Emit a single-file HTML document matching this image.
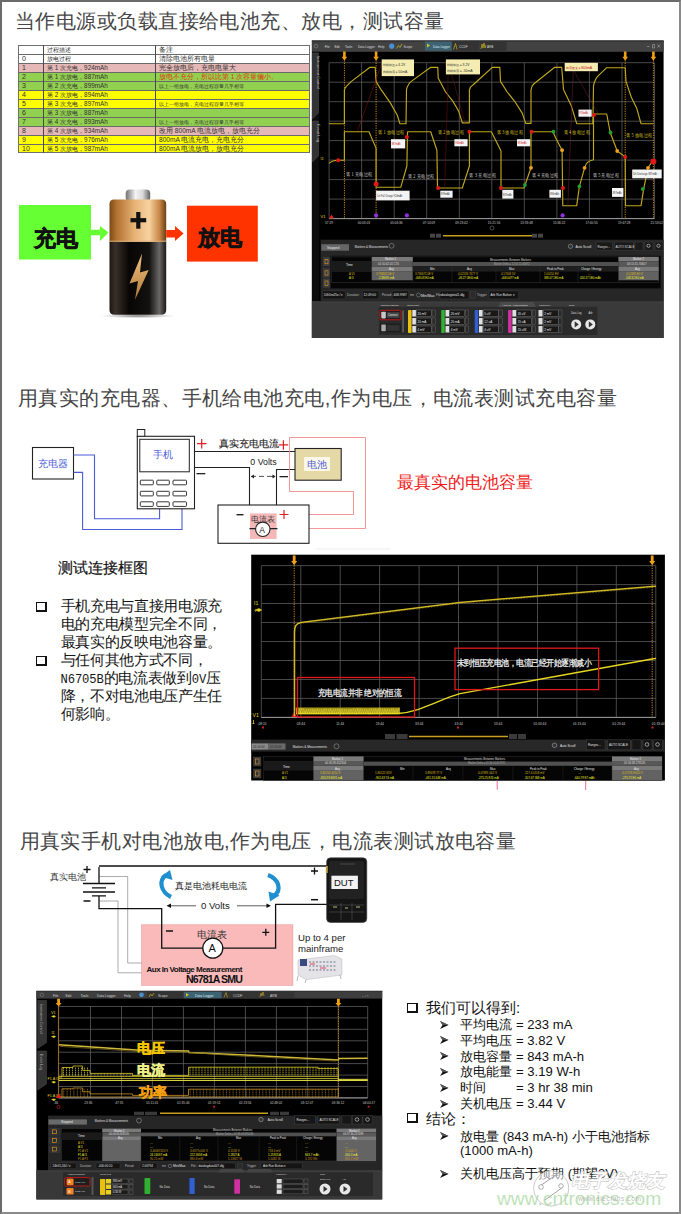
<!DOCTYPE html>
<html><head><meta charset="utf-8">
<style>
html,body{margin:0;padding:0;}
body{width:681px;height:1214px;overflow:hidden;background:#fff;position:relative;font-family:"Liberation Sans",sans-serif;}
.a{position:absolute;}
.frame{position:absolute;left:0;top:0;width:681px;height:1214px;box-sizing:border-box;border-top:2px solid #6b6b6b;border-left:2px solid #6b6b6b;border-right:2px solid #8a8a8a;border-bottom:2px solid #8a8a8a;z-index:50;pointer-events:none;}
.title{position:absolute;font-size:20px;line-height:24px;color:#454545;white-space:nowrap;font-weight:300;letter-spacing:0.45px;}
svg{position:absolute;overflow:visible;}
.bul2{font-size:14.6px;line-height:17.9px;letter-spacing:-0.33px;color:#151515;white-space:nowrap;font-family:"Liberation Serif",serif;}
.r3h{font-size:15px;line-height:20px;color:#111;white-space:nowrap;}
.r3{font-size:13.1px;line-height:20px;color:#111;white-space:nowrap;}
.r3c{font-size:13px;line-height:20px;color:#111;white-space:nowrap;}
.lat{font-family:"Liberation Mono",monospace;font-size:12.17px;letter-spacing:-0.1px;line-height:1px;}
.tr{position:absolute;left:0;width:292px;height:9px;box-sizing:border-box;border-top:1px solid #6a6a6a;font-size:7px;line-height:8px;color:#333;white-space:nowrap;overflow:hidden;}
.tr span{position:absolute;top:0;}
.c1{left:4px;font-size:7px;}
.c2{left:29px;font-size:6.4px;}
.c3{left:141px;font-size:6.6px;}
.c3s{left:141px;font-size:5px;}

</style></head><body>
<div class="frame"></div>

<!-- ============ SECTION 1 ============ -->
<div class="title" style="left:15px;top:9px;">当作电源或负载直接给电池充、放电，测试容量</div>

<!-- table -->
<div id="tbl" class="a" style="left:18px;top:45px;width:292px;height:108px;">
<div class="tr" style="top:0px;background:#fff"><span class="c1"></span><span class="c2">过程描述</span><span class="c3">备注</span></div>
<div class="tr" style="top:9px;background:#fff"><span class="c1">0</span><span class="c2">放电过程</span><span class="c3">清除电池所有电量</span></div>
<div class="tr" style="top:18px;background:#e6b8b7"><span class="c1">1</span><span class="c2">第 1 次充电，924mAh</span><span class="c3">完全放电后，充电电量大</span></div>
<div class="tr" style="top:27px;background:#92d050"><span class="c1">2</span><span class="c2">第 1 次放电，887mAh</span><span class="c3" style="color:#e03010">放电不充分，所以比第 1 次容量偏小。</span></div>
<div class="tr" style="top:36px;background:#92d050"><span class="c1">3</span><span class="c2">第 2 次充电，899mAh</span><span class="c3s">以上一组放电，充电过程容量几乎相等</span></div>
<div class="tr" style="top:45px;background:#ffff00"><span class="c1">4</span><span class="c2">第 2 次放电，894mAh</span><span class="c3"></span></div>
<div class="tr" style="top:54px;background:#ffff00"><span class="c1">5</span><span class="c2">第 3 次充电，897mAh</span><span class="c3s">以上一组放电，充电过程容量几乎相等</span></div>
<div class="tr" style="top:63px;background:#92d050"><span class="c1">6</span><span class="c2">第 3 次放电，887mAh</span><span class="c3"></span></div>
<div class="tr" style="top:72px;background:#92d050"><span class="c1">7</span><span class="c2">第 4 次充电，893mAh</span><span class="c3s">以上一组放电，充电过程容量几乎相等</span></div>
<div class="tr" style="top:81px;background:#e6b8b7"><span class="c1">8</span><span class="c2">第 4 次放电，934mAh</span><span class="c3">改用 800mA 电流放电，放电充分</span></div>
<div class="tr" style="top:90px;background:#ffff00"><span class="c1">9</span><span class="c2">第 5 次充电，976mAh</span><span class="c3">800mA 电流充电，充电充分</span></div>
<div class="tr" style="top:99px;background:#ffff00"><span class="c1">10</span><span class="c2">第 5 次放电，987mAh</span><span class="c3">800mA 电流放电，放电充分</span></div>
<div class="a" style="left:0;top:0;width:292px;height:108px;box-sizing:border-box;border:1px solid #707070;"></div>
<div class="a" style="left:25px;top:0;width:1px;height:108px;background:#4a4a4a;"></div>
<div class="a" style="left:137px;top:0;width:1px;height:108px;background:#4a4a4a;"></div>
</div>

<!-- battery -->
<svg class="a" style="left:0;top:160px;" width="280" height="180" viewBox="0 160 280 180">
<defs>
<linearGradient id="cop" x1="0" x2="1" y1="0" y2="0">
<stop offset="0" stop-color="#7a4a18"/><stop offset="0.12" stop-color="#b07030"/><stop offset="0.45" stop-color="#e8b478"/><stop offset="0.7" stop-color="#f6d2a0"/><stop offset="0.88" stop-color="#c88848"/><stop offset="1" stop-color="#6a3e14"/>
</linearGradient>
<linearGradient id="blk" x1="0" x2="1" y1="0" y2="0">
<stop offset="0" stop-color="#1a1410"/><stop offset="0.1" stop-color="#3a302a"/><stop offset="0.35" stop-color="#080604"/><stop offset="0.7" stop-color="#141210"/><stop offset="0.88" stop-color="#6a6866"/><stop offset="1" stop-color="#1a1816"/>
</linearGradient>
<linearGradient id="cap" x1="0" x2="1" y1="0" y2="0">
<stop offset="0" stop-color="#707070"/><stop offset="0.4" stop-color="#f4f4f4"/><stop offset="0.7" stop-color="#d8d8d8"/><stop offset="1" stop-color="#606060"/>
</linearGradient>
<linearGradient id="bolt" x1="0" x2="0" y1="0" y2="1">
<stop offset="0" stop-color="#f0c080"/><stop offset="1" stop-color="#b07838"/>
</linearGradient>
<radialGradient id="shd" cx="0.5" cy="0.5" r="0.5"><stop offset="0" stop-color="#555" stop-opacity="0.8"/><stop offset="1" stop-color="#888" stop-opacity="0"/></radialGradient>
</defs>
<rect x="19" y="205" width="72" height="54.5" fill="#66ff33"/>
<polygon points="91,229.8 100,229.8 100,226 108.5,232.5 100,241 100,235.3 91,235.3" fill="#66ff33"/>
<text x="33.5" y="246" font-family="Liberation Sans,sans-serif" font-size="22" font-weight="bold" fill="#111" stroke="#111" stroke-width="0.7">充电</text>
<ellipse cx="138" cy="316" rx="38" ry="2.2" fill="url(#shd)"/>
<rect x="125.7" y="189.5" width="24.5" height="12" rx="4" fill="url(#cap)"/>
<path d="M109.5,242 V204 Q109.5,199.5 114,199.5 H161.7 Q166.2,199.5 166.2,204 V242 Z" fill="url(#cop)"/>
<rect x="109.5" y="240.5" width="56.7" height="3" fill="#d8b080" opacity="0.6"/>
<path d="M109.5,242 V310 Q109.5,314.8 114.5,314.8 H161.2 Q166.2,314.8 166.2,310 V242 Z" fill="url(#blk)"/>
<rect x="136.2" y="212" width="4.2" height="16.7" fill="#111"/>
<rect x="130.5" y="218.1" width="15.7" height="4.2" fill="#111"/>
<polygon points="142,253.6 129.5,283.6 138,281 135,299.8 148.7,270 140,272.5" fill="url(#bolt)"/>
<polygon points="166.2,230 175,230 175,226 183.6,233.6 175,241 175,237.4 166.2,237.4" fill="#ff3300"/>
<rect x="187" y="205.7" width="70.8" height="55.9" fill="#ff3300"/>
<text x="197.5" y="245" font-family="Liberation Sans,sans-serif" font-size="22" font-weight="bold" fill="#111" stroke="#111" stroke-width="0.7">放电</text>
</svg>

<!-- screenshot 1 -->
<svg class="a" style="left:0;top:0" width="681" height="360" viewBox="0 0 681 360">
<rect x="311.9" y="40.6" width="351.70000000000005" height="297.4" fill="#000"/>
<rect x="311.9" y="40.6" width="351.70000000000005" height="11.2" fill="#424242"/>
<rect x="311.9" y="40.6" width="351.70000000000005" height="1.2" fill="#303030"/>
<text x="324.7" y="47.6" font-size="3.1" fill="#d8d8d8" font-family="Liberation Sans,sans-serif">File</text>
<text x="334.4" y="47.6" font-size="3.1" fill="#d8d8d8" font-family="Liberation Sans,sans-serif">Edit</text>
<text x="345" y="47.6" font-size="3.1" fill="#d8d8d8" font-family="Liberation Sans,sans-serif">Tools</text>
<text x="357.9" y="47.6" font-size="3.1" fill="#d8d8d8" font-family="Liberation Sans,sans-serif">Data Logger</text>
<text x="378" y="47.6" font-size="3.1" fill="#d8d8d8" font-family="Liberation Sans,sans-serif">Help</text>
<circle cx="316" cy="46.2" r="1.8" fill="none" stroke="#999" stroke-width="0.5"/>
<circle cx="391.7" cy="46.2" r="2.6" fill="#4a90d0"/>
<path d="M396.5,48.5 l2,-3 l1.5,2 l2,-3.5" stroke="#c8b020" stroke-width="0.8" fill="none"/>
<text x="403.5" y="47.6" font-size="3.1" fill="#d8d8d8" font-family="Liberation Sans,sans-serif">Scope</text>
<rect x="425" y="41.5" width="26.7" height="9.2" fill="#3d6272"/>
<path d="M427,43.5 l3,2 l-3,2 z" fill="#d8c020"/>
<text x="433" y="47.6" font-size="3.1" fill="#dfe8ee" font-family="Liberation Sans,sans-serif">Data Logger</text>
<rect x="452" y="41.5" width="27" height="9.2" fill="#333"/>
<path d="M453.5,49.5 l2,-6 l1.5,6" stroke="#c8b020" stroke-width="0.7" fill="none"/>
<text x="459" y="47.6" font-size="3.1" fill="#d8d8d8" font-family="Liberation Sans,sans-serif">CCDF</text>
<rect x="479.5" y="41.5" width="27" height="9.2" fill="#333"/>
<path d="M481,49 l1,-5 l1,4 l1,-5 l1,5 l1,-3" stroke="#c8b020" stroke-width="0.7" fill="none"/>
<text x="487" y="47.6" font-size="3.1" fill="#d8d8d8" font-family="Liberation Sans,sans-serif">ARB</text>
<path d="M647,46.5 h2.5 M652.5,44.5 h2 v3.5 h-2 z M657.5,44.5 l2.5,3 M660,44.5 l-2.5,3" stroke="#bbb" stroke-width="0.5" fill="none"/>
<rect x="311.9" y="51.8" width="7.3" height="286.2" fill="#0c0c0c"/>
<path d="M312.5,53 h6 v60 l-6,6 z" fill="#333" stroke="#555" stroke-width="0.4"/>
<path d="M312.5,121 h6 v35 l-6,6 z" fill="#333" stroke="#555" stroke-width="0.4"/>
<text transform="translate(316.9,56) rotate(90)" font-size="4" fill="#bbb" font-family="Liberation Sans,sans-serif">Instrument Control</text>
<text transform="translate(316.9,124) rotate(90)" font-size="4" fill="#bbb" font-family="Liberation Sans,sans-serif">Event Log</text>
<line x1="329.1" y1="62.7" x2="329.1" y2="218.6" stroke="#5a5a5a" stroke-width="0.8"/>
<line x1="361.6" y1="62.7" x2="361.6" y2="218.6" stroke="#5a5a5a" stroke-width="0.8"/>
<line x1="394.2" y1="62.7" x2="394.2" y2="218.6" stroke="#5a5a5a" stroke-width="0.8"/>
<line x1="426.7" y1="62.7" x2="426.7" y2="218.6" stroke="#5a5a5a" stroke-width="0.8"/>
<line x1="459.3" y1="62.7" x2="459.3" y2="218.6" stroke="#5a5a5a" stroke-width="0.8"/>
<line x1="491.8" y1="62.7" x2="491.8" y2="218.6" stroke="#5a5a5a" stroke-width="0.8"/>
<line x1="524.3" y1="62.7" x2="524.3" y2="218.6" stroke="#5a5a5a" stroke-width="0.8"/>
<line x1="556.9" y1="62.7" x2="556.9" y2="218.6" stroke="#5a5a5a" stroke-width="0.8"/>
<line x1="589.4" y1="62.7" x2="589.4" y2="218.6" stroke="#5a5a5a" stroke-width="0.8"/>
<line x1="622.0" y1="62.7" x2="622.0" y2="218.6" stroke="#5a5a5a" stroke-width="0.8"/>
<line x1="654.5" y1="62.7" x2="654.5" y2="218.6" stroke="#5a5a5a" stroke-width="0.8"/>
<line x1="329.1" y1="62.7" x2="654.5" y2="62.7" stroke="#5a5a5a" stroke-width="0.8"/>
<line x1="329.1" y1="82.2" x2="654.5" y2="82.2" stroke="#5a5a5a" stroke-width="0.8"/>
<line x1="329.1" y1="101.7" x2="654.5" y2="101.7" stroke="#5a5a5a" stroke-width="0.8"/>
<line x1="329.1" y1="121.2" x2="654.5" y2="121.2" stroke="#5a5a5a" stroke-width="0.8"/>
<line x1="329.1" y1="140.6" x2="654.5" y2="140.6" stroke="#5a5a5a" stroke-width="0.8"/>
<line x1="329.1" y1="160.1" x2="654.5" y2="160.1" stroke="#5a5a5a" stroke-width="0.8"/>
<line x1="329.1" y1="179.6" x2="654.5" y2="179.6" stroke="#5a5a5a" stroke-width="0.8"/>
<line x1="329.1" y1="199.1" x2="654.5" y2="199.1" stroke="#5a5a5a" stroke-width="0.8"/>
<line x1="329.1" y1="218.6" x2="654.5" y2="218.6" stroke="#5a5a5a" stroke-width="0.8"/>
<line x1="329.1" y1="218.6" x2="654.5" y2="218.6" stroke="#9a9a9a" stroke-width="1"/>
<line x1="344.4" y1="58" x2="344.4" y2="218.6" stroke="#e89a10" stroke-width="0.9" stroke-dasharray="1.2,1.2"/>
<path d="M343.09999999999997,51.5 h2.6 v5.2 h1.5 l-2.8,4 l-2.8,-4 h1.5 z" fill="#f0a010"/>
<line x1="376.1" y1="58" x2="376.1" y2="218.6" stroke="#e89a10" stroke-width="0.9" stroke-dasharray="1.2,1.2"/>
<path d="M374.8,51.5 h2.6 v5.2 h1.5 l-2.8,4 l-2.8,-4 h1.5 z" fill="#f0a010"/>
<line x1="625.2" y1="58" x2="625.2" y2="218.6" stroke="#e89a10" stroke-width="0.9" stroke-dasharray="1.2,1.2"/>
<path d="M623.9000000000001,51.5 h2.6 v5.2 h1.5 l-2.8,4 l-2.8,-4 h1.5 z" fill="#f0a010"/>
<line x1="653.4" y1="58" x2="653.4" y2="218.6" stroke="#e89a10" stroke-width="0.9" stroke-dasharray="1.2,1.2"/>
<path d="M652.1,51.5 h2.6 v5.2 h1.5 l-2.8,4 l-2.8,-4 h1.5 z" fill="#f0a010"/>
<path d="M328.9,123.7 L344.4,123.7 L344.4,90.2 C344.8,88 345.3,87.3 346.1,86.7 L351.4,81.4 L370,67.3 L375.2,67.3 L376,81.4 L381.4,90.2 L390.2,102.6 L397.2,115 L399.9,123.7 L406,123.7 L406.5,89.4 C407.5,86 409,83 411.3,81.4 L430.7,67.3 L437.8,67.3 L438.2,77.9 L445.6,92 L452.6,100.8 L458.8,111.4 L462.3,122.8 L469.4,122.8 L469.4,90.2 C470,87 471,86 472.9,85 L492.3,67.3 L499.8,67.3 L500.5,81.4 L507.2,92 L514.3,100.8 L522.2,113.1 L525.7,123.4 L531,123.4 L531,90.2 C531.5,87 532.5,85 533.7,84 L554.7,67.3 L561.7,67.3 L563.5,89.4 L571.4,106.1 L576.7,123.7 L592.9,123.7 L593.5,85.8 C594.5,81 596,78 597.9,76.1 L606.7,67.7 L625.2,67.7 L626,81.4 L631.3,97.3 L636.6,107.9 L641,123.7 L653.4,123.7" stroke="#c0a81c" stroke-width="1.15" fill="none" stroke-linejoin="round"/>
<path d="M328.9,163.4 C331,161.5 335,160.2 338.2,160.2 L344.4,160.2 L344.4,131.7 L369,131.7 L376.1,148.4 L376.1,187.2 L400.8,187.2 L406.9,166 L407.5,131.7 L430.7,131.7 L436.9,150.2 L437.5,188 L462.3,188 L469.4,166 L469.4,131.7 L491.4,131.7 L501,151 L501,188 L524,188 L531,167.8 L531,131.7 L552.9,131.7 L555.6,137.8 L562.1,150.2 L562.8,205.7 L576.7,205.7 L579.4,186.3 L584.6,167.8 C586,163 588,161 593.5,159.8 L593.5,114 L606.7,114 L610.2,132.5 L617.2,151 L625.2,156.9 L625.5,205.7 L641,205.7 L643.7,188.9 L648,167.8 L652.8,160.7" stroke="#c0a81c" stroke-width="1.15" fill="none" stroke-linejoin="round"/>
<path d="M381.7,63.8 L357.6,130.8" stroke="#7a1010" stroke-width="0.6"/>
<path d="M448.2,74.4 L444.7,188 M451.7,74.4 L465,122.8" stroke="#6a1010" stroke-width="0.55"/>
<path d="M573.2,71.2 L567.9,204.8 M574,71.2 L597.9,113.1" stroke="#6a2030" stroke-width="0.55"/>
<rect x="381.7" y="59.4" width="32.3" height="16.7" fill="#f4ecb0"/>
<rect x="445.9" y="59.4" width="34.1" height="15" fill="#f4ecb0"/>
<rect x="564.7" y="62.9" width="33.2" height="8.3" fill="#f4ecb0"/>
<text x="382.5" y="66" font-size="3.4" fill="#333" font-family="Liberation Sans,sans-serif">终端电压 = 4.2V</text><text x="382.5" y="73" font-size="3.4" fill="#333" font-family="Liberation Sans,sans-serif">终端电流 = 50mA</text>
<text x="446.7" y="65.5" font-size="3.4" fill="#333" font-family="Liberation Sans,sans-serif">终端电压 = 3.2V</text><text x="446.7" y="72" font-size="3.4" fill="#333" font-family="Liberation Sans,sans-serif">终端电流 = -50mA</text>
<text x="565.5" y="68.5" font-size="3.4" fill="#c01010" font-family="Liberation Sans,sans-serif">电流改变 = 800mA</text>
<text transform="translate(378,133.5) scale(0.82,1)" font-size="5.2" fill="#d8c020" font-family="Liberation Serif,serif">第 1 放电过程</text>
<text transform="translate(437.6,133.5) scale(0.82,1)" font-size="5.2" fill="#d8c020" font-family="Liberation Serif,serif">第 2 放电过程</text>
<text transform="translate(496.7,133.5) scale(0.82,1)" font-size="5.2" fill="#d8c020" font-family="Liberation Serif,serif">第 3 放电过程</text>
<text transform="translate(563.5,134.3) scale(0.82,1)" font-size="5.2" fill="#d8c020" font-family="Liberation Serif,serif">第 4 放电过程</text>
<text transform="translate(626,137) scale(0.82,1)" font-size="5.2" fill="#d8c020" font-family="Liberation Serif,serif">第 5 放电过程</text>
<text transform="translate(346,175.8) scale(0.82,1)" font-size="5.2" fill="#cfcfcf" font-family="Liberation Serif,serif">第 1 充电过程</text>
<text transform="translate(407.8,177.5) scale(0.82,1)" font-size="5.2" fill="#cfcfcf" font-family="Liberation Serif,serif">第 2 充电过程</text>
<text transform="translate(469.4,176.6) scale(0.82,1)" font-size="5.2" fill="#cfcfcf" font-family="Liberation Serif,serif">第 3 充电过程</text>
<text transform="translate(531.9,176.8) scale(0.82,1)" font-size="5.2" fill="#cfcfcf" font-family="Liberation Serif,serif">第 4 充电过程</text>
<text transform="translate(592.6,176.8) scale(0.82,1)" font-size="5.2" fill="#cfcfcf" font-family="Liberation Serif,serif">第 5 充电过程</text>
<rect x="376.1" y="190.7" width="33.5" height="9.7" fill="#f4f4f4"/>
<text transform="translate(376.90000000000003,197.005) scale(0.85,1)" font-size="2.8" fill="#333" font-family="Liberation Sans,sans-serif">1st Full Charge 924mAh</text>
<rect x="440.3" y="190.7" width="12.3" height="7" fill="#f4f4f4"/>
<text transform="translate(441.1,195.25) scale(0.85,1)" font-size="2.8" fill="#333" font-family="Liberation Sans,sans-serif">899mAh</text>
<rect x="502.3" y="189.8" width="11.1" height="8.8" fill="#f4f4f4"/>
<text transform="translate(503.1,195.52) scale(0.85,1)" font-size="2.8" fill="#333" font-family="Liberation Sans,sans-serif">897mAh</text>
<rect x="549.4" y="189.8" width="11.5" height="7.9" fill="#f4f4f4"/>
<text transform="translate(550.1999999999999,194.935) scale(0.85,1)" font-size="2.8" fill="#333" font-family="Liberation Sans,sans-serif">894mAh</text>
<rect x="612" y="188" width="11.4" height="8.9" fill="#f4f4f4"/>
<text transform="translate(612.8,193.785) scale(0.85,1)" font-size="2.8" fill="#333" font-family="Liberation Sans,sans-serif">897mAh</text>
<rect x="391" y="139.2" width="14.2" height="9.2" fill="#f4f4f4"/>
<text transform="translate(391.8,145.17999999999998) scale(0.85,1)" font-size="2.8" fill="#d01010" font-family="Liberation Sans,sans-serif">887mAh</text>
<rect x="454.4" y="139.2" width="13.2" height="7.1" fill="#f4f4f4"/>
<text transform="translate(455.2,143.815) scale(0.85,1)" font-size="2.8" fill="#d01010" font-family="Liberation Sans,sans-serif">934mAh</text>
<rect x="517" y="139.2" width="13.2" height="7.1" fill="#f4f4f4"/>
<text transform="translate(517.8,143.815) scale(0.85,1)" font-size="2.8" fill="#d01010" font-family="Liberation Sans,sans-serif">893mAh</text>
<rect x="578.5" y="109.6" width="13.2" height="7.1" fill="#f4f4f4"/>
<text transform="translate(579.3,114.21499999999999) scale(0.85,1)" font-size="2.8" fill="#d01010" font-family="Liberation Sans,sans-serif">976mAh</text>
<rect x="632.2" y="169.5" width="29.5" height="8.8" fill="#f4f4f4"/>
<text transform="translate(633.0,175.22) scale(0.85,1)" font-size="2.8" fill="#333" font-family="Liberation Sans,sans-serif">5th Discharge 987mAh</text>
<circle cx="338.2" cy="160.2" r="2" fill="#e01818"/>
<circle cx="376.1" cy="184" r="2.5" fill="#e01818"/>
<circle cx="406.9" cy="137" r="2" fill="#e01818"/>
<circle cx="438.1" cy="188" r="2" fill="#e01818"/>
<circle cx="469.4" cy="131.7" r="2" fill="#e01818"/>
<circle cx="501" cy="188" r="2" fill="#e01818"/>
<circle cx="531.6" cy="131.7" r="2" fill="#e01818"/>
<circle cx="531" cy="167.8" r="1.9" fill="#f0a020"/>
<circle cx="524.9" cy="185" r="1.9" fill="#22a030"/>
<circle cx="553.4" cy="131.7" r="1.9" fill="#22a030"/>
<circle cx="562.1" cy="150.2" r="1.9" fill="#f0a020"/>
<circle cx="563" cy="188" r="2" fill="#e01818"/>
<circle cx="579.4" cy="186.3" r="1.9" fill="#22a030"/>
<circle cx="584.6" cy="167.8" r="1.9" fill="#f0a020"/>
<circle cx="594" cy="114.9" r="2" fill="#e01818"/>
<circle cx="610.5" cy="132.5" r="1.9" fill="#22a030"/>
<circle cx="617.2" cy="151" r="1.9" fill="#f0a020"/>
<circle cx="625.2" cy="156.9" r="2" fill="#e01818"/>
<circle cx="642.8" cy="189" r="1.9" fill="#22a030"/>
<circle cx="648" cy="167.8" r="1.9" fill="#f0a020"/>
<circle cx="653.4" cy="161.6" r="3" fill="#e01818"/>
<circle cx="376.1" cy="215.4" r="2.1" fill="#9030e0"/>
<circle cx="406.9" cy="215.4" r="2.1" fill="#9030e0"/>
<circle cx="562.6" cy="215.4" r="2.1" fill="#9030e0"/>
<path d="M329,218.6 l2.5,-4 l2.5,4 z" fill="#e02020"/>
<text x="320.5" y="160" font-size="4" fill="#e0d020" font-family="Liberation Sans,sans-serif">I1</text>
<text x="320.5" y="218" font-size="4" fill="#e0d020" font-family="Liberation Sans,sans-serif">V1</text>
<text x="325.1" y="224" font-size="3.2" fill="#cfcfcf" font-family="Liberation Sans,sans-serif">57:29</text>
<text x="357.64000000000004" y="224" font-size="3.2" fill="#cfcfcf" font-family="Liberation Sans,sans-serif">00:03:03</text>
<text x="390.18" y="224" font-size="3.2" fill="#cfcfcf" font-family="Liberation Sans,sans-serif">05:06:36</text>
<text x="422.72" y="224" font-size="3.2" fill="#cfcfcf" font-family="Liberation Sans,sans-serif">07:14:09</text>
<text x="455.26" y="224" font-size="3.2" fill="#cfcfcf" font-family="Liberation Sans,sans-serif">09:23:42</text>
<text x="487.8" y="224" font-size="3.2" fill="#cfcfcf" font-family="Liberation Sans,sans-serif">15:21:16</text>
<text x="520.34" y="224" font-size="3.2" fill="#cfcfcf" font-family="Liberation Sans,sans-serif">13:33:48</text>
<text x="552.88" y="224" font-size="3.2" fill="#cfcfcf" font-family="Liberation Sans,sans-serif">15:36:22</text>
<text x="585.4200000000001" y="224" font-size="3.2" fill="#cfcfcf" font-family="Liberation Sans,sans-serif">17:40:55</text>
<text x="617.96" y="224" font-size="3.2" fill="#cfcfcf" font-family="Liberation Sans,sans-serif">19:47:28</text>
<text x="650.5" y="224" font-size="3.2" fill="#cfcfcf" font-family="Liberation Sans,sans-serif">21:53:02</text>
<rect x="430" y="233.7" width="5" height="4" fill="#444"/><rect x="436" y="233.7" width="5" height="4" fill="#444"/>
<line x1="443" y1="235.7" x2="532" y2="235.7" stroke="#c8a020" stroke-width="1.4"/>
<rect x="532" y="233.7" width="5" height="4" fill="#444"/><rect x="538" y="233.7" width="5" height="4" fill="#444"/>
<circle cx="492" cy="228" r="2" fill="none" stroke="#777" stroke-width="0.6"/>
<rect x="320.6" y="239.7" width="343.0" height="61.5" fill="#262626"/>
<rect x="321.3" y="244.2" width="27.7" height="6.5" fill="#666"/>
<text x="327" y="248.8" font-size="3.3" fill="#e8e8e8" font-family="Liberation Sans,sans-serif">Stopped</text>
<text x="354.8" y="247.6" font-size="2.9" fill="#e0e0e0" font-family="Liberation Sans,sans-serif">Markers &amp; Measurements</text>
<circle cx="391.6" cy="245.8" r="2.4" fill="none" stroke="#aaa" stroke-width="0.5"/>
<circle cx="570.5" cy="246.3" r="2.2" fill="#333" stroke="#aaa" stroke-width="0.5"/>
<text x="575.4" y="247.8" font-size="3.3" fill="#e0e0e0" font-family="Liberation Sans,sans-serif">Auto Scroll</text>
<rect x="596" y="242" width="16.4" height="8.5" fill="#1a1a1a" stroke="#555" stroke-width="0.3"/>
<rect x="614.4" y="242" width="18.9" height="8.5" fill="#1a1a1a" stroke="#555" stroke-width="0.3"/>
<rect x="635" y="242" width="8" height="8.5" fill="#1a1a1a" stroke="#555" stroke-width="0.3"/>
<rect x="645" y="242" width="8" height="8.5" fill="#1a1a1a" stroke="#555" stroke-width="0.3"/>
<rect x="655" y="242" width="8" height="8.5" fill="#1a1a1a" stroke="#555" stroke-width="0.3"/>
<text x="597.5" y="247.6" font-size="3" fill="#ddd" font-family="Liberation Sans,sans-serif">Ranges...</text><text x="615.5" y="247.6" font-size="3" fill="#ddd" font-family="Liberation Sans,sans-serif">AUTO SCALE</text>
<circle cx="648.5" cy="245.8" r="1.6" fill="none" stroke="#ddd" stroke-width="0.6"/><circle cx="658.5" cy="245.8" r="1.6" fill="none" stroke="#ddd" stroke-width="0.6"/>
<rect x="323.4" y="257.5" width="6.1" height="8.3" fill="#3a3a3a" stroke="#555" stroke-width="0.3"/>
<rect x="325" y="259.5" width="3" height="4.3" fill="none" stroke="#e0a030" stroke-width="0.6"/>
<rect x="323.4" y="268.8" width="6.1" height="8.3" fill="#3a3a3a" stroke="#555" stroke-width="0.3"/>
<rect x="325" y="270.8" width="3" height="4.3" fill="none" stroke="#e0a030" stroke-width="0.6"/>
<rect x="323.4" y="279" width="6.1" height="8.3" fill="#3a3a3a" stroke="#555" stroke-width="0.3"/>
<rect x="325" y="281" width="3" height="4.3" fill="none" stroke="#e0a030" stroke-width="0.6"/>
<rect x="330.6" y="255.8" width="330" height="32.6" fill="#050505"/>
<rect x="331.6" y="256.9" width="327.1" height="25.5" fill="#050505" stroke="#3a3a3a" stroke-width="0.5"/>
<rect x="331.6" y="261" width="40.1" height="11" fill="#1a1a1a"/>
<rect x="371.7" y="256.9" width="41.1" height="4.1" fill="#7a7a7a"/>
<rect x="371.7" y="261" width="41.1" height="5.2" fill="#585858"/>
<rect x="371.7" y="266.4" width="41.1" height="5.3" fill="#7a7a7a"/>
<rect x="371.7" y="271.7" width="41.1" height="8.6" fill="#626262"/>
<rect x="412.8" y="262" width="205.6" height="4.3" fill="#505050"/>
<rect x="412.8" y="266.6" width="205.6" height="5" fill="#1e1e1e"/>
<rect x="618.4" y="256.9" width="40.3" height="4.3" fill="#7a7a7a"/>
<rect x="618.4" y="261.2" width="40.3" height="5.2" fill="#585858"/>
<rect x="618.4" y="266.4" width="40.3" height="5.3" fill="#7a7a7a"/>
<rect x="618.4" y="271.7" width="40.3" height="8.6" fill="#626262"/>
<text x="346" y="265.8" font-size="3.1" fill="#e8e8e8" font-family="Liberation Sans,sans-serif">Time</text>
<text x="385" y="260.3" font-size="2.8" fill="#eee" font-family="Liberation Sans,sans-serif">Marker 1</text><text x="633" y="260.3" font-size="2.8" fill="#eee" font-family="Liberation Sans,sans-serif">Marker 2</text>
<text x="378" y="265" font-size="2.8" fill="#ddd" font-family="Liberation Sans,sans-serif">01:50:42.01 CT6</text><text x="627" y="265" font-size="2.8" fill="#ddd" font-family="Liberation Sans,sans-serif">03:15:15.70657</text>
<text x="490" y="260.6" font-size="2.8" fill="#ddd" font-family="Liberation Sans,sans-serif">Measurements Between Markers</text><text x="494" y="265.2" font-size="2.6" fill="#aaa" font-family="Liberation Sans,sans-serif">Marker Delta = 12:01:11.00872</text>
<text x="389" y="270.2" font-size="2.8" fill="#e8e8e8" font-family="Liberation Sans,sans-serif">Avg</text>
<text x="430" y="270.2" font-size="2.8" fill="#e8e8e8" font-family="Liberation Sans,sans-serif">Min</text>
<text x="467" y="270.2" font-size="2.8" fill="#e8e8e8" font-family="Liberation Sans,sans-serif">Avg</text>
<text x="509" y="270.2" font-size="2.8" fill="#e8e8e8" font-family="Liberation Sans,sans-serif">Max</text>
<text x="547" y="270.2" font-size="2.8" fill="#e8e8e8" font-family="Liberation Sans,sans-serif">Peak to Peak</text>
<text x="581" y="270.2" font-size="2.8" fill="#e8e8e8" font-family="Liberation Sans,sans-serif">Charge / Energy</text>
<text x="635" y="270.2" font-size="2.8" fill="#e8e8e8" font-family="Liberation Sans,sans-serif">Avg</text>
<line x1="412.8" y1="266.6" x2="412.8" y2="282" stroke="#333" stroke-width="0.4"/>
<line x1="452" y1="266.6" x2="452" y2="282" stroke="#333" stroke-width="0.4"/>
<line x1="496" y1="266.6" x2="496" y2="282" stroke="#333" stroke-width="0.4"/>
<line x1="540" y1="266.6" x2="540" y2="282" stroke="#333" stroke-width="0.4"/>
<line x1="578" y1="266.6" x2="578" y2="282" stroke="#333" stroke-width="0.4"/>
<line x1="618.4" y1="266.6" x2="618.4" y2="282" stroke="#333" stroke-width="0.4"/>
<text x="349" y="275.2" font-size="2.8" fill="#d8b818" font-family="Liberation Sans,sans-serif">A V1</text>
<text x="376" y="275.2" font-size="2.8" fill="#d8b818" font-family="Liberation Sans,sans-serif">3.78882C0E V</text>
<text x="415" y="275.2" font-size="2.8" fill="#d8b818" font-family="Liberation Sans,sans-serif">3.78067C0E V</text>
<text x="458" y="275.2" font-size="2.8" fill="#d8b818" font-family="Liberation Sans,sans-serif">4.02533 7677 V</text>
<text x="501" y="275.2" font-size="2.8" fill="#d8b818" font-family="Liberation Sans,sans-serif">4.17008 5V</text>
<text x="544" y="275.2" font-size="2.8" fill="#d8b818" font-family="Liberation Sans,sans-serif">1.00210 EV</text>
<text x="588" y="275.2" font-size="2.8" fill="#d8b818" font-family="Liberation Sans,sans-serif">---</text>
<text x="626" y="275.2" font-size="2.8" fill="#d8b818" font-family="Liberation Sans,sans-serif">4.12483 E0 V</text>
<text x="349" y="279.2" font-size="2.8" fill="#f0f020" font-family="Liberation Sans,sans-serif">A I1</text>
<text x="378" y="279.2" font-size="2.8" fill="#f0f020" font-family="Liberation Sans,sans-serif">-2.38095 mA</text>
<text x="415" y="279.2" font-size="2.8" fill="#f0f020" font-family="Liberation Sans,sans-serif">-408.08 E0 mA</text>
<text x="458" y="279.2" font-size="2.8" fill="#f0f020" font-family="Liberation Sans,sans-serif">-49.27 0E00 mA</text>
<text x="501" y="279.2" font-size="2.8" fill="#f0f020" font-family="Liberation Sans,sans-serif">-408.0477 mA</text>
<text x="544" y="279.2" font-size="2.8" fill="#f0f020" font-family="Liberation Sans,sans-serif">388.07 1E0 mA</text>
<text x="580" y="279.2" font-size="2.8" fill="#f0f020" font-family="Liberation Sans,sans-serif">424.17 5E0 mAh</text>
<text x="625" y="279.2" font-size="2.8" fill="#f0f020" font-family="Liberation Sans,sans-serif">-108.32 E0 mA</text>
<rect x="322.7" y="290.9" width="22.7" height="8.1" rx="1" fill="#141414" stroke="#4a4a4a" stroke-width="0.4"/>
<rect x="362.4" y="290.9" width="16.5" height="8.1" rx="1" fill="#141414" stroke="#4a4a4a" stroke-width="0.4"/>
<rect x="392.2" y="290.9" width="16.5" height="8.1" rx="1" fill="#141414" stroke="#4a4a4a" stroke-width="0.4"/>
<rect x="440" y="290.9" width="29" height="8.1" rx="1" fill="#141414" stroke="#4a4a4a" stroke-width="0.4"/>
<rect x="489" y="290.9" width="29.6" height="8.1" rx="1" fill="#141414" stroke="#4a4a4a" stroke-width="0.4"/>
<text x="323.8" y="296.2" font-size="3.2" fill="#e0e0e0" font-family="Liberation Sans,sans-serif">10h5m25s / ▾</text>
<text x="347" y="296.2" font-size="3.1" fill="#bbb" font-family="Liberation Sans,sans-serif">Duration:</text><text x="363.5" y="296.2" font-size="3.2" fill="#e0e0e0" font-family="Liberation Sans,sans-serif">12:49:00</text>
<text x="382" y="296.2" font-size="3.1" fill="#bbb" font-family="Liberation Sans,sans-serif">Period:</text><text x="393.5" y="296.2" font-size="3.2" fill="#e0e0e0" font-family="Liberation Sans,sans-serif">408.9987</text><text x="410" y="296.2" font-size="3.1" fill="#bbb" font-family="Liberation Sans,sans-serif">ms</text>
<circle cx="418.5" cy="295" r="2" fill="none" stroke="#aaa" stroke-width="0.4"/>
<text x="421" y="296.5" font-size="3.6" fill="#e0e0e0" font-family="Liberation Sans,sans-serif">Min/Max</text><text x="436" y="296.2" font-size="3.1" fill="#bbb" font-family="Liberation Sans,sans-serif">File:</text>
<text x="441" y="296.2" font-size="3.2" fill="#e0e0e0" font-family="Liberation Sans,sans-serif">datalogtotal1.dlg</text>
<rect x="470.7" y="291.5" width="4.5" height="7" fill="#2a2a2a" stroke="#555" stroke-width="0.3"/>
<text x="477" y="296.2" font-size="3.1" fill="#bbb" font-family="Liberation Sans,sans-serif">Trigger</text><text x="490.5" y="296.2" font-size="3.1" fill="#e0e0e0" font-family="Liberation Sans,sans-serif">Arb Run Button  ▾</text>
<rect x="311.9" y="301.5" width="351.70000000000005" height="36.5" fill="#3a3a3a"/>
<rect x="311.9" y="301.5" width="351.70000000000005" height="0.8" fill="#4a4a4a"/>
<rect x="378.8" y="306.8" width="218.5" height="28.2" fill="#2a2a2a"/>
<path d="M498,307 l2.5,-5 h33 l2.5,5 z" fill="#4a4a4a"/>
<text x="380.6" y="305.6" font-size="2.5" fill="#ddd" font-family="Liberation Sans,sans-serif">INSTRUMENTS</text>
<text x="407" y="305.6" font-size="2.5" fill="#ddd" font-family="Liberation Sans,sans-serif">OUTPUTS</text>
<text x="502" y="305.6" font-size="2.5" fill="#ddd" font-family="Liberation Sans,sans-serif">ACTIVE - datalogdata8</text>
<text x="539" y="305.6" font-size="2.5" fill="#ddd" font-family="Liberation Sans,sans-serif">FORMULA</text>
<text x="569" y="305.6" font-size="2.5" fill="#ddd" font-family="Liberation Sans,sans-serif">RUN</text>
<rect x="379.9" y="310.3" width="21.1" height="9.5" rx="1.5" fill="#1e1e1e" stroke="#d01818" stroke-width="0.9"/>
<rect x="381.3" y="311.7" width="4.5" height="6.7" rx="0.8" fill="#c8c8c8"/><rect x="386.8" y="312.2" width="12.7" height="5.7" fill="#444"/>
<text x="388" y="316" font-size="2.6" fill="#eee" font-family="Liberation Sans,sans-serif">Connect</text>
<rect x="379.9" y="323.4" width="21.1" height="9.1" rx="1.5" fill="#1e1e1e"/>
<rect x="381.3" y="324.6" width="4.5" height="6.7" rx="0.8" fill="#aaa"/><rect x="386.8" y="325.1" width="12.7" height="5.7" fill="#333"/>
<rect x="402.2" y="310.3" width="1.8" height="22" fill="#5a5a5a"/>
<rect x="408" y="310" width="3.6" height="23" rx="0.8" fill="#e8c010"/>
<rect x="412.3" y="310" width="3.6" height="6.5" fill="#e0e0e0"/>
<rect x="416.6" y="310" width="15" height="6.5" fill="#181818" stroke="#888" stroke-width="0.4"/>
<rect x="432" y="310" width="3.5" height="6.5" fill="#2a2a2a" stroke="#888" stroke-width="0.3"/>
<text x="417.6" y="314.6" font-size="3" fill="#eee" font-family="Liberation Sans,sans-serif">20 mV</text>
<rect x="412.3" y="318" width="3.6" height="6.5" fill="#e0e0e0"/>
<rect x="416.6" y="318" width="15" height="6.5" fill="#181818" stroke="#888" stroke-width="0.4"/>
<rect x="432" y="318" width="3.5" height="6.5" fill="#2a2a2a" stroke="#888" stroke-width="0.3"/>
<text x="417.6" y="322.6" font-size="3" fill="#eee" font-family="Liberation Sans,sans-serif">20 mA</text>
<rect x="412.3" y="326" width="3.6" height="6.5" fill="#e0e0e0"/>
<rect x="416.6" y="326" width="15" height="6.5" fill="#181818" stroke="#888" stroke-width="0.4"/>
<rect x="432" y="326" width="3.5" height="6.5" fill="#2a2a2a" stroke="#888" stroke-width="0.3"/>
<text x="417.6" y="330.6" font-size="3" fill="#eee" font-family="Liberation Sans,sans-serif">4 mV</text>
<rect x="441.2" y="310" width="3.6" height="23" rx="0.8" fill="#30b030"/>
<rect x="445.5" y="310" width="3.6" height="6.5" fill="#e0e0e0"/>
<rect x="449.8" y="310" width="15" height="6.5" fill="#181818" stroke="#888" stroke-width="0.4"/>
<rect x="465.2" y="310" width="3.5" height="6.5" fill="#2a2a2a" stroke="#888" stroke-width="0.3"/>
<text x="450.8" y="314.6" font-size="3" fill="#eee" font-family="Liberation Sans,sans-serif">20 mV</text>
<rect x="445.5" y="318" width="3.6" height="6.5" fill="#e0e0e0"/>
<rect x="449.8" y="318" width="15" height="6.5" fill="#181818" stroke="#888" stroke-width="0.4"/>
<rect x="465.2" y="318" width="3.5" height="6.5" fill="#2a2a2a" stroke="#888" stroke-width="0.3"/>
<text x="450.8" y="322.6" font-size="3" fill="#eee" font-family="Liberation Sans,sans-serif">20 mA</text>
<rect x="445.5" y="326" width="3.6" height="6.5" fill="#e0e0e0"/>
<rect x="449.8" y="326" width="15" height="6.5" fill="#181818" stroke="#888" stroke-width="0.4"/>
<rect x="465.2" y="326" width="3.5" height="6.5" fill="#2a2a2a" stroke="#888" stroke-width="0.3"/>
<text x="450.8" y="330.6" font-size="3" fill="#eee" font-family="Liberation Sans,sans-serif">4 mV</text>
<rect x="474.7" y="310" width="3.6" height="23" rx="0.8" fill="#3060d0"/>
<rect x="479.0" y="310" width="3.6" height="6.5" fill="#e0e0e0"/>
<rect x="483.3" y="310" width="15" height="6.5" fill="#181818" stroke="#888" stroke-width="0.4"/>
<rect x="498.7" y="310" width="3.5" height="6.5" fill="#2a2a2a" stroke="#888" stroke-width="0.3"/>
<text x="484.3" y="314.6" font-size="3" fill="#eee" font-family="Liberation Sans,sans-serif">5 uV</text>
<rect x="479.0" y="318" width="3.6" height="6.5" fill="#e0e0e0"/>
<rect x="483.3" y="318" width="15" height="6.5" fill="#181818" stroke="#888" stroke-width="0.4"/>
<rect x="498.7" y="318" width="3.5" height="6.5" fill="#2a2a2a" stroke="#888" stroke-width="0.3"/>
<text x="484.3" y="322.6" font-size="3" fill="#eee" font-family="Liberation Sans,sans-serif">12 uA</text>
<rect x="479.0" y="326" width="3.6" height="6.5" fill="#e0e0e0"/>
<rect x="483.3" y="326" width="15" height="6.5" fill="#181818" stroke="#888" stroke-width="0.4"/>
<rect x="498.7" y="326" width="3.5" height="6.5" fill="#2a2a2a" stroke="#888" stroke-width="0.3"/>
<text x="484.3" y="330.6" font-size="3" fill="#eee" font-family="Liberation Sans,sans-serif">4 uV</text>
<rect x="508.1" y="310" width="3.6" height="23" rx="0.8" fill="#d030a0"/>
<rect x="512.4" y="310" width="3.6" height="6.5" fill="#e0e0e0"/>
<rect x="516.7" y="310" width="15" height="6.5" fill="#181818" stroke="#888" stroke-width="0.4"/>
<rect x="532.1" y="310" width="3.5" height="6.5" fill="#2a2a2a" stroke="#888" stroke-width="0.3"/>
<text x="517.7" y="314.6" font-size="3" fill="#eee" font-family="Liberation Sans,sans-serif">20 uV</text>
<rect x="512.4" y="318" width="3.6" height="6.5" fill="#e0e0e0"/>
<rect x="516.7" y="318" width="15" height="6.5" fill="#181818" stroke="#888" stroke-width="0.4"/>
<rect x="532.1" y="318" width="3.5" height="6.5" fill="#2a2a2a" stroke="#888" stroke-width="0.3"/>
<text x="517.7" y="322.6" font-size="3" fill="#eee" font-family="Liberation Sans,sans-serif">15 uA</text>
<rect x="512.4" y="326" width="3.6" height="6.5" fill="#e0e0e0"/>
<rect x="516.7" y="326" width="15" height="6.5" fill="#181818" stroke="#888" stroke-width="0.4"/>
<rect x="532.1" y="326" width="3.5" height="6.5" fill="#2a2a2a" stroke="#888" stroke-width="0.3"/>
<text x="517.7" y="330.6" font-size="3" fill="#eee" font-family="Liberation Sans,sans-serif">15 uW</text>
<rect x="538.5" y="310" width="4" height="6.5" fill="#ddd"/><rect x="543.2" y="310" width="15" height="6.5" fill="#181818" stroke="#888" stroke-width="0.4"/><rect x="558.6" y="310" width="3.4" height="6.5" fill="#2a2a2a" stroke="#888" stroke-width="0.3"/>
<text x="544.2" y="314.6" font-size="3" fill="#eee" font-family="Liberation Sans,sans-serif">2 mV</text>
<rect x="538.5" y="318" width="4" height="6.5" fill="#ddd"/><rect x="543.2" y="318" width="15" height="6.5" fill="#181818" stroke="#888" stroke-width="0.4"/><rect x="558.6" y="318" width="3.4" height="6.5" fill="#2a2a2a" stroke="#888" stroke-width="0.3"/>
<text x="544.2" y="322.6" font-size="3" fill="#eee" font-family="Liberation Sans,sans-serif">2 mV</text>
<rect x="538.5" y="326" width="4" height="6.5" fill="#ddd"/><rect x="543.2" y="326" width="15" height="6.5" fill="#181818" stroke="#888" stroke-width="0.4"/><rect x="558.6" y="326" width="3.4" height="6.5" fill="#2a2a2a" stroke="#888" stroke-width="0.3"/>
<text x="544.2" y="330.6" font-size="3" fill="#eee" font-family="Liberation Sans,sans-serif">2 mV</text>
<text x="571" y="313.5" font-size="2.6" fill="#ddd" font-family="Liberation Sans,sans-serif">Data Log</text><text x="588.5" y="313.5" font-size="2.6" fill="#ddd" font-family="Liberation Sans,sans-serif">Arb</text>
<circle cx="576.2" cy="324.4" r="5" fill="#e8e8e8"/><path d="M574.7,321.3 l4,3.1 l-4,3.1 z" fill="#333"/>
<circle cx="590.3" cy="324.4" r="5" fill="#e8e8e8"/><path d="M588.8,321.3 l4,3.1 l-4,3.1 z" fill="#333"/>
</svg>

<!-- ============ SECTION 2 ============ -->
<div class="title" style="left:18px;top:386px;">用真实的充电器、手机给电池充电,作为电压，电流表测试充电容量</div>

<svg class="a" style="left:0;top:0" width="681" height="560" viewBox="0 0 681 560">
<rect x="32.5" y="447.5" width="41" height="31.5" fill="#fff" stroke="#222" stroke-width="1.1"/>
<text x="37.5" y="467" font-size="9.6" fill="#4a5ad8" font-family="Liberation Sans,sans-serif">充电器</text>
<path d="M73.5,455 H94.5 V518.8 H159.6 V508.8" fill="none" stroke="#4a5ad8" stroke-width="1.1"/>
<path d="M73.5,472.4 H82.6 V529.5 H182 V508.8" fill="none" stroke="#4a5ad8" stroke-width="1.1"/>
<rect x="137.3" y="429.5" width="7.5" height="7" fill="#fff" stroke="#222" stroke-width="1"/>
<rect x="137.3" y="436.3" width="57.2" height="72.5" fill="#fff" stroke="#222" stroke-width="1.1"/>
<rect x="139.8" y="439.3" width="49.5" height="32.5" fill="#fff" stroke="#222" stroke-width="1"/>
<text x="152.5" y="457.5" font-size="9.6" fill="#4a5ad8" font-family="Liberation Sans,sans-serif">手机</text>
<rect x="140.3" y="480.2" width="13" height="4.6" rx="0.8" fill="#fff" stroke="#222" stroke-width="0.9"/>
<rect x="156.8" y="480.2" width="12.5" height="4.6" rx="0.8" fill="#fff" stroke="#222" stroke-width="0.9"/>
<rect x="173" y="480.2" width="13.5" height="4.6" rx="0.8" fill="#fff" stroke="#222" stroke-width="0.9"/>
<rect x="140.3" y="491.3" width="13" height="4.6" rx="0.8" fill="#fff" stroke="#222" stroke-width="0.9"/>
<rect x="156.8" y="491.3" width="12.5" height="4.6" rx="0.8" fill="#fff" stroke="#222" stroke-width="0.9"/>
<rect x="173" y="491.3" width="13.5" height="4.6" rx="0.8" fill="#fff" stroke="#222" stroke-width="0.9"/>
<rect x="140.3" y="501.8" width="13" height="4.6" rx="0.8" fill="#fff" stroke="#222" stroke-width="0.9"/>
<rect x="156.8" y="501.8" width="12.5" height="4.6" rx="0.8" fill="#fff" stroke="#222" stroke-width="0.9"/>
<rect x="173" y="501.8" width="13.5" height="4.6" rx="0.8" fill="#fff" stroke="#222" stroke-width="0.9"/>
<path d="M194.5,451.5 H295" stroke="#222" stroke-width="1.1" fill="none"/>
<path d="M194.5,467.5 H249.5 V528.6 H255.5" stroke="#222" stroke-width="1.1" fill="none"/>
<path d="M295,469.5 H276.5 V528.6 H270.5" stroke="#222" stroke-width="1.1" fill="none"/>
<path d="M309,528.5 H365.5 V437.5 H289.5 V491.5 H353.5 V514.5 H309" stroke="#f08c8c" stroke-width="0.9" fill="none"/>
<rect x="295" y="448.5" width="46.2" height="31.7" fill="#e6d9a8" stroke="#222" stroke-width="1.1"/>
<rect x="304" y="457" width="26" height="14" fill="#fffdf2" opacity="0.85"/>
<text x="307" y="467.5" font-size="9.6" fill="#4a5ad8" font-family="Liberation Sans,sans-serif">电池</text>
<path d="M197,443.7 h9.5 M201.7,439 v9.5 M278.7,444.9 h9.5 M283.4,440.2 v9.5" stroke="#e02020" stroke-width="1.2"/>
<rect x="196.5" y="473" width="8.8" height="1.3" fill="#222"/>
<rect x="279.5" y="476" width="8.5" height="1.3" fill="#222"/>
<text x="218.8" y="446.8" font-size="9.7" fill="#222" font-family="Liberation Sans,sans-serif" stroke="#222" stroke-width="0.15">真实充电电流</text>
<text x="250.3" y="464.8" font-size="8.8" fill="#222" font-family="Liberation Sans,sans-serif">0 Volts</text>
<path d="M251,476.4 h5 M259,476.4 h5 M267,476.4 h8" stroke="#222" stroke-width="0.8"/>
<path d="M251,476.4 l3,-2 v4 z M275.5,476.4 l-3,-2 v4 z" fill="#222"/>
<rect x="218" y="505" width="91" height="38.3" fill="#fff" stroke="#222" stroke-width="1.1"/>
<rect x="250" y="513.4" width="26.6" height="25.6" fill="#f4b8b8"/>
<text x="250.5" y="522" font-size="8" fill="#333" font-family="Liberation Sans,sans-serif">电流表</text>
<rect x="236.5" y="514" width="7" height="1.4" fill="#222"/>
<path d="M279.5,514.5 h9 M284,510 v9" stroke="#e02020" stroke-width="1.2"/>
<path d="M249.5,528.6 H256 M270,528.6 H277.5" stroke="#222" stroke-width="1.1"/>
<circle cx="262.8" cy="529.3" r="7.2" fill="#fff" stroke="#222" stroke-width="1.1"/>
<text x="259.3" y="532.6" font-size="8.5" fill="#222" font-family="Liberation Sans,sans-serif">A</text>
<line x1="316" y1="549" x2="390" y2="549" stroke="#e8e8e8" stroke-width="0.8"/>
</svg>

<div class="a" style="left:397px;top:472px;font-size:16.5px;line-height:20px;color:#f01818;white-space:nowrap;">最真实的电池容量</div>

<div class="a" style="left:58px;top:558px;font-size:14.5px;line-height:20px;color:#111;white-space:nowrap;-webkit-text-stroke:0.2px #111;">测试连接框图</div>

<div class="a" style="left:35.9px;top:601.5px;width:8px;height:7px;border:1.3px solid #111;border-right-width:2.6px;border-bottom-width:2.6px;"></div>
<div class="a" style="left:35.9px;top:655.6px;width:8px;height:7px;border:1.3px solid #111;border-right-width:2.6px;border-bottom-width:2.6px;"></div>
<div class="a bul2" style="left:60.5px;top:598.3px;">手机充电与直接用电源充<br>电的充电模型完全不同，<br>最真实的反映电池容量。<br>与任何其他方式不同，<br><span class="lat">N6705B</span>的电流表做到<span class="lat">0V</span>压<br>降，不对电池电压产生任<br>何影响。</div>

<svg class="a" style="left:0;top:0" width="681" height="800" viewBox="0 0 681 800">
<rect x="251.2" y="554.7" width="413.7" height="225.79999999999995" fill="#000"/>
<line x1="261.3" y1="565.6" x2="261.3" y2="717.4" stroke="#5c5c5c" stroke-width="0.8"/>
<line x1="300.8" y1="565.6" x2="300.8" y2="717.4" stroke="#5c5c5c" stroke-width="0.8"/>
<line x1="340.2" y1="565.6" x2="340.2" y2="717.4" stroke="#5c5c5c" stroke-width="0.8"/>
<line x1="379.6" y1="565.6" x2="379.6" y2="717.4" stroke="#5c5c5c" stroke-width="0.8"/>
<line x1="419.1" y1="565.6" x2="419.1" y2="717.4" stroke="#5c5c5c" stroke-width="0.8"/>
<line x1="458.5" y1="565.6" x2="458.5" y2="717.4" stroke="#5c5c5c" stroke-width="0.8"/>
<line x1="498.0" y1="565.6" x2="498.0" y2="717.4" stroke="#5c5c5c" stroke-width="0.8"/>
<line x1="537.5" y1="565.6" x2="537.5" y2="717.4" stroke="#5c5c5c" stroke-width="0.8"/>
<line x1="576.9" y1="565.6" x2="576.9" y2="717.4" stroke="#5c5c5c" stroke-width="0.8"/>
<line x1="616.3" y1="565.6" x2="616.3" y2="717.4" stroke="#5c5c5c" stroke-width="0.8"/>
<line x1="655.8" y1="565.6" x2="655.8" y2="717.4" stroke="#5c5c5c" stroke-width="0.8"/>
<line x1="261.3" y1="565.6" x2="655.8" y2="565.6" stroke="#5c5c5c" stroke-width="0.8"/>
<line x1="261.3" y1="584.6" x2="655.8" y2="584.6" stroke="#5c5c5c" stroke-width="0.8"/>
<line x1="261.3" y1="603.5" x2="655.8" y2="603.5" stroke="#5c5c5c" stroke-width="0.8"/>
<line x1="261.3" y1="622.5" x2="655.8" y2="622.5" stroke="#5c5c5c" stroke-width="0.8"/>
<line x1="261.3" y1="641.5" x2="655.8" y2="641.5" stroke="#5c5c5c" stroke-width="0.8"/>
<line x1="261.3" y1="660.5" x2="655.8" y2="660.5" stroke="#5c5c5c" stroke-width="0.8"/>
<line x1="261.3" y1="679.5" x2="655.8" y2="679.5" stroke="#5c5c5c" stroke-width="0.8"/>
<line x1="261.3" y1="698.4" x2="655.8" y2="698.4" stroke="#5c5c5c" stroke-width="0.8"/>
<line x1="261.3" y1="717.4" x2="655.8" y2="717.4" stroke="#5c5c5c" stroke-width="0.8"/>
<line x1="261.3" y1="717.4" x2="655.8" y2="717.4" stroke="#999" stroke-width="1"/>
<line x1="294.2" y1="563" x2="294.2" y2="717.4" stroke="#e89a10" stroke-width="0.9" stroke-dasharray="1.2,1.2"/>
<path d="M292.8,555.5 h2.8 v5.5 h1.6 l-3,4.3 l-3,-4.3 h1.6 z" fill="#f0a010"/>
<line x1="652.2" y1="563" x2="652.2" y2="717.4" stroke="#e89a10" stroke-width="0.9" stroke-dasharray="1.2,1.2"/>
<path d="M650.8000000000001,555.5 h2.8 v5.5 h1.6 l-3,4.3 l-3,-4.3 h1.6 z" fill="#f0a010"/>
<path d="M291.5,717 l2.7,-5 l2.7,5 z" fill="#e02020"/>
<text x="254" y="605" font-size="5.2" fill="#e0d020" font-family="Liberation Sans,sans-serif">I1</text>
<path d="M255,610 l4,-1.5 l2.5,1.5 l-2.5,1.5 z M256,612 l-1.5,-2" stroke="#e0d020" stroke-width="0.6" fill="#e0d020"/>
<text x="252.5" y="717" font-size="5.2" fill="#e0d020" font-family="Liberation Sans,sans-serif">V1</text>
<path d="M253.5,720 v4 l-1,-1 m1,1 l1,-1" stroke="#e0c020" stroke-width="0.8" fill="none"/>
<path d="M294.5,716 L294.5,632 C294.6,626 296,623.5 301,622.5 L460,602.5 L652,586.5 L656,586.2" stroke="#d0b828" stroke-width="1.5" fill="none"/>
<path d="M300,623.6 L460,603.6 L652,587.6" stroke="#807018" stroke-width="0.6" fill="none" stroke-dasharray="1.5,1.5"/>
<rect x="296" y="707.3" width="104" height="7" fill="#d8c820" opacity="0.55"/>
<polyline points="296.0,708.4 296.9,713.7 297.8,708.6 298.7,713.7 299.6,708.9 300.5,713.1 301.4,708.0 302.3,714.0 303.2,708.4 304.1,713.3 305.0,709.5 305.9,713.6 306.8,709.3 307.7,713.6 308.6,709.0 309.5,713.2 310.4,709.0 311.3,714.0 312.2,708.8 313.1,713.9 314.0,709.0 314.9,713.1 315.8,709.1 316.7,713.7 317.6,708.5 318.5,713.0 319.4,709.3 320.3,713.6 321.2,709.1 322.1,714.1 323.0,709.1 323.9,714.1 324.8,708.6 325.7,714.0 326.6,708.7 327.5,714.1 328.4,709.3 329.3,713.1 330.2,708.2 331.1,713.3 332.0,709.4 332.9,713.5 333.8,708.9 334.7,713.4 335.6,708.8 336.5,713.5 337.4,708.5 338.3,713.7 339.2,708.9 340.1,714.1 341.0,709.0 341.9,714.1 342.8,709.3 343.7,714.2 344.6,709.0 345.5,713.2 346.4,709.3 347.3,714.2 348.2,709.4 349.1,713.7 350.0,709.1 350.9,713.3 351.8,709.2 352.7,713.7 353.6,708.4 354.5,713.1 355.4,709.3 356.3,714.2 357.2,708.1 358.1,714.0 359.0,708.6 359.9,713.2 360.8,708.4 361.7,713.9 362.6,709.3 363.5,713.1 364.4,708.9 365.3,713.1 366.2,709.1 367.1,713.4 368.0,709.3 368.9,714.2 369.8,708.8 370.7,714.2 371.6,708.5 372.5,713.1 373.4,708.9 374.3,713.0 375.2,708.3 376.1,713.5 377.0,708.9 377.9,713.2 378.8,708.1 379.7,714.0 380.6,708.5 381.5,714.2 382.4,709.3 383.3,713.5 384.2,708.7 385.1,713.6 386.0,709.0 386.9,713.7 387.8,708.8 388.7,713.7 389.6,709.4 390.5,713.6 391.4,708.6 392.3,713.9 393.2,708.4 394.1,713.4 395.0,709.5 395.9,713.6 396.8,708.8 397.7,713.0 398.6,708.6 399.5,713.7" stroke="#f0e030" stroke-width="0.6" fill="none"/>
<path d="M296,709 H400" stroke="#c8b020" stroke-width="1.2"/>
<path d="M296,713.5 H398 C420,712 438,700 460,693.7 L652,659 L656,658.4" stroke="#e8d820" stroke-width="1.3" fill="none"/>
<rect x="297.5" y="677.5" width="117" height="39.5" fill="none" stroke="#e01818" stroke-width="1.3"/>
<text transform="translate(318,696.3) scale(0.86,1)" font-size="8.8" fill="#f4f4f4" stroke="#f4f4f4" stroke-width="0.25" font-family="Liberation Serif,serif">充电电流并非 绝对的恒流</text>
<rect x="455" y="648.2" width="143.6" height="41.4" fill="none" stroke="#e01818" stroke-width="1.3"/>
<text transform="translate(456.6,665.8) scale(0.88,1)" font-size="8.5" fill="#f4f4f4" stroke="#f4f4f4" stroke-width="0.25" font-family="Liberation Serif,serif">未到恒压充电池，电流已经开始逐渐减小</text>
<text x="257.3" y="724.8" font-size="3.3" fill="#ccc" font-family="Liberation Sans,sans-serif">-08:15</text>
<text x="296.75" y="724.8" font-size="3.3" fill="#ccc" font-family="Liberation Sans,sans-serif">03:44</text>
<text x="336.2" y="724.8" font-size="3.3" fill="#ccc" font-family="Liberation Sans,sans-serif">11:44</text>
<text x="375.65" y="724.8" font-size="3.3" fill="#ccc" font-family="Liberation Sans,sans-serif">23:44</text>
<text x="415.1" y="724.8" font-size="3.3" fill="#ccc" font-family="Liberation Sans,sans-serif">33:44</text>
<text x="454.54999999999995" y="724.8" font-size="3.3" fill="#ccc" font-family="Liberation Sans,sans-serif">43:44</text>
<text x="494.0" y="724.8" font-size="3.3" fill="#ccc" font-family="Liberation Sans,sans-serif">53:44</text>
<text x="533.45" y="724.8" font-size="3.3" fill="#ccc" font-family="Liberation Sans,sans-serif">01:03:44</text>
<text x="572.9" y="724.8" font-size="3.3" fill="#ccc" font-family="Liberation Sans,sans-serif">01:13:44</text>
<text x="612.3499999999999" y="724.8" font-size="3.3" fill="#ccc" font-family="Liberation Sans,sans-serif">01:23:44</text>
<text x="651.8" y="724.8" font-size="3.3" fill="#ccc" font-family="Liberation Sans,sans-serif">01:33:44</text>
<rect x="262" y="726.5" width="2" height="2" fill="#d02020"/>
<rect x="457" y="726.5" width="2" height="2" fill="#d02020"/>
<rect x="651.5" y="726.5" width="2" height="2" fill="#d02020"/>
<rect x="385" y="734" width="10" height="5" fill="#3a3a3a"/><rect x="396.5" y="734" width="11" height="5" fill="#3a3a3a"/>
<line x1="409" y1="736.5" x2="508" y2="736.5" stroke="#c8a020" stroke-width="1.5"/>
<rect x="509" y="734" width="8" height="5" fill="#3a3a3a"/><rect x="518" y="734" width="8" height="5" fill="#3a3a3a"/>
<rect x="251.2" y="739.6" width="413.7" height="12" fill="#282828"/>
<rect x="251.5" y="743.4" width="17" height="6.2" fill="#8a8a8a"/><rect x="268.5" y="743.4" width="17" height="6.2" fill="#6a6a6a"/>
<text x="253" y="747.8" font-size="3" fill="#222" font-family="Liberation Sans,sans-serif">01:10:00</text><text x="270" y="747.8" font-size="3" fill="#222" font-family="Liberation Sans,sans-serif">01:10:00</text>
<text x="292.7" y="747.8" font-size="3" fill="#e0e0e0" font-family="Liberation Sans,sans-serif">Markers &amp; Measurements</text>
<circle cx="336.5" cy="746.3" r="2.5" fill="none" stroke="#aaa" stroke-width="0.5"/>
<circle cx="554.5" cy="745.3" r="2.3" fill="#333" stroke="#bbb" stroke-width="0.5"/>
<text x="560" y="747" font-size="3.2" fill="#e0e0e0" font-family="Liberation Sans,sans-serif">Auto Scroll</text>
<rect x="586.4" y="739.9" width="18.6" height="10" fill="#161616" stroke="#555" stroke-width="0.3"/>
<rect x="607.6" y="739.9" width="22.6" height="10" fill="#161616" stroke="#555" stroke-width="0.3"/>
<rect x="632" y="739.9" width="9" height="10" fill="#161616" stroke="#555" stroke-width="0.3"/>
<rect x="643" y="739.9" width="9" height="10" fill="#161616" stroke="#555" stroke-width="0.3"/>
<rect x="653.5" y="739.9" width="9" height="10" fill="#161616" stroke="#555" stroke-width="0.3"/>
<text x="588" y="746.3" font-size="3" fill="#e0e0e0" font-family="Liberation Sans,sans-serif">Ranges...</text><text x="609" y="746.3" font-size="3" fill="#e0e0e0" font-family="Liberation Sans,sans-serif">AUTO SCALE</text>
<circle cx="647" cy="744.5" r="1.8" fill="none" stroke="#ddd" stroke-width="0.6"/><circle cx="657.5" cy="744.5" r="1.8" fill="none" stroke="#ddd" stroke-width="0.6"/>
<rect x="253.5" y="757" width="7.5" height="9" fill="#333" stroke="#666" stroke-width="0.3"/>
<rect x="255.5" y="759" width="3.5" height="5" fill="none" stroke="#e0a030" stroke-width="0.6"/>
<rect x="253.5" y="769" width="7.5" height="9" fill="#333" stroke="#666" stroke-width="0.3"/>
<rect x="255.5" y="771" width="3.5" height="5" fill="none" stroke="#e0a030" stroke-width="0.6"/>
<rect x="263.4" y="756.4" width="398.6" height="24" fill="#050505" stroke="#333" stroke-width="0.5"/>
<rect x="263.4" y="761" width="50" height="9.5" fill="#1a1a1a"/>
<rect x="313.4" y="756.4" width="50.2" height="4.6" fill="#7a7a7a"/>
<rect x="313.4" y="761" width="50.2" height="4.8" fill="#585858"/>
<rect x="313.4" y="765.8" width="50.2" height="5" fill="#7a7a7a"/>
<rect x="313.4" y="770.8" width="50.2" height="9.6" fill="#626262"/>
<rect x="612" y="756.4" width="50" height="4.6" fill="#7a7a7a"/>
<rect x="612" y="761" width="50" height="4.8" fill="#585858"/>
<rect x="612" y="765.8" width="50" height="5" fill="#7a7a7a"/>
<rect x="612" y="770.8" width="50" height="9.6" fill="#626262"/>
<rect x="363.6" y="761.6" width="248.4" height="4.2" fill="#505050"/>
<text x="283" y="767.8" font-size="3.1" fill="#e8e8e8" font-family="Liberation Sans,sans-serif">Time</text>
<text x="332" y="759.8" font-size="2.8" fill="#eee" font-family="Liberation Sans,sans-serif">Marker 1</text><text x="630" y="759.8" font-size="2.8" fill="#eee" font-family="Liberation Sans,sans-serif">Marker 2</text>
<text x="325" y="764.4" font-size="2.8" fill="#ddd" font-family="Liberation Sans,sans-serif">00:30:39.652304</text><text x="624" y="764.4" font-size="2.8" fill="#ddd" font-family="Liberation Sans,sans-serif">01:30:38.279526</text>
<text x="464" y="759.8" font-size="2.8" fill="#ddd" font-family="Liberation Sans,sans-serif">Measurements Between Markers</text><text x="468" y="764.4" font-size="2.6" fill="#aaa" font-family="Liberation Sans,sans-serif">Marker Delta = 01:30:20.657872</text>
<text x="335" y="769.6" font-size="2.8" fill="#e8e8e8" font-family="Liberation Sans,sans-serif">Avg</text>
<text x="400" y="769.6" font-size="2.8" fill="#e8e8e8" font-family="Liberation Sans,sans-serif">Min</text>
<text x="446" y="769.6" font-size="2.8" fill="#e8e8e8" font-family="Liberation Sans,sans-serif">Avg</text>
<text x="490" y="769.6" font-size="2.8" fill="#e8e8e8" font-family="Liberation Sans,sans-serif">Max</text>
<text x="530" y="769.6" font-size="2.8" fill="#e8e8e8" font-family="Liberation Sans,sans-serif">Peak to Peak</text>
<text x="574" y="769.6" font-size="2.8" fill="#e8e8e8" font-family="Liberation Sans,sans-serif">Charge / Energy</text>
<text x="634" y="769.6" font-size="2.8" fill="#e8e8e8" font-family="Liberation Sans,sans-serif">Avg</text>
<line x1="363.6" y1="765.8" x2="363.6" y2="780.4" stroke="#333" stroke-width="0.4"/>
<line x1="412.9" y1="765.8" x2="412.9" y2="780.4" stroke="#333" stroke-width="0.4"/>
<line x1="462.9" y1="765.8" x2="462.9" y2="780.4" stroke="#333" stroke-width="0.4"/>
<line x1="512.9" y1="765.8" x2="512.9" y2="780.4" stroke="#333" stroke-width="0.4"/>
<line x1="562.9" y1="765.8" x2="562.9" y2="780.4" stroke="#333" stroke-width="0.4"/>
<line x1="612" y1="765.8" x2="612" y2="780.4" stroke="#333" stroke-width="0.4"/>
<text x="282" y="774.4" font-size="2.9" fill="#d8b818" font-family="Liberation Sans,sans-serif">A V1</text>
<text x="320" y="774.4" font-size="2.9" fill="#d8b818" font-family="Liberation Sans,sans-serif">3.80250 4050 V</text>
<text x="375" y="774.4" font-size="2.9" fill="#d8b818" font-family="Liberation Sans,sans-serif">1.80122 6XV</text>
<text x="425" y="774.4" font-size="2.9" fill="#d8b818" font-family="Liberation Sans,sans-serif">3.89478 77 V</text>
<text x="478" y="774.4" font-size="2.9" fill="#d8b818" font-family="Liberation Sans,sans-serif">4.07891 042 V</text>
<text x="525" y="774.4" font-size="2.9" fill="#d8b818" font-family="Liberation Sans,sans-serif">227.4 0118 mV</text>
<text x="578" y="774.4" font-size="2.9" fill="#d8b818" font-family="Liberation Sans,sans-serif">---</text>
<text x="622" y="774.4" font-size="2.9" fill="#d8b818" font-family="Liberation Sans,sans-serif">4.07578 E020 V</text>
<text x="282" y="778.6" font-size="2.9" fill="#f0f020" font-family="Liberation Sans,sans-serif">A I1</text>
<text x="320" y="778.6" font-size="2.9" fill="#f0f020" font-family="Liberation Sans,sans-serif">-826.93 8091 mA</text>
<text x="375" y="778.6" font-size="2.9" fill="#f0f020" font-family="Liberation Sans,sans-serif">-902.43 74 mA</text>
<text x="425" y="778.6" font-size="2.9" fill="#f0f020" font-family="Liberation Sans,sans-serif">-431.15 648 mA</text>
<text x="478" y="778.6" font-size="2.9" fill="#f0f020" font-family="Liberation Sans,sans-serif">-275.25 874 mA</text>
<text x="525" y="778.6" font-size="2.9" fill="#f0f020" font-family="Liberation Sans,sans-serif">207.67 368 mA</text>
<text x="574" y="778.6" font-size="2.9" fill="#f0f020" font-family="Liberation Sans,sans-serif">-640.79 87 mAh</text>
<text x="622" y="778.6" font-size="2.9" fill="#f0f020" font-family="Liberation Sans,sans-serif">-275.72 E0 mA</text>
<line x1="497.2" y1="780.5" x2="497.2" y2="789.7" stroke="#e87090" stroke-width="1"/>
<line x1="585.7" y1="781" x2="585.7" y2="790" stroke="#e87090" stroke-width="1"/>
</svg>

<!-- ============ SECTION 3 ============ -->
<div class="title" style="left:19.5px;top:828.5px;">用真实手机对电池放电,作为电压，电流表测试放电容量</div>

<svg class="a" style="left:0;top:0" width="681" height="1000" viewBox="0 0 681 1000">
<rect x="141.6" y="924.8" width="151.3" height="60.5" fill="#fbbaba" stroke="#e89a9a" stroke-width="0.6"/>
<path d="M99,876.5 H127.7 V963 H141.6" stroke="#888" stroke-width="0.7" fill="none"/>
<path d="M99,901 H118 V972.8 H141.6" stroke="#888" stroke-width="0.7" fill="none"/>
<path d="M99,867 V883.5 M83,883.5 H115 M92,887.8 H106 M83,892 H115 M92,895.8 H106 M99,895.8 V908.6 H161.7 V948.2 H203" stroke="#111" stroke-width="1.3" fill="none"/>
<path d="M99,866 H327.2" stroke="#111" stroke-width="1.3"/>
<path d="M327.2,904.4 H275.6 V948.2 H223" stroke="#111" stroke-width="1.3" fill="none"/>
<path d="M83.5,869.5 h7 M87,866 v7" stroke="#111" stroke-width="1.3"/>
<path d="M83.5,901 h7" stroke="#111" stroke-width="1.5"/>
<path d="M311,871 h7 M314.5,867.5 v7" stroke="#111" stroke-width="1.3"/>
<path d="M311,899.7 h7" stroke="#111" stroke-width="1.5"/>
<path d="M166,931 h7" stroke="#111" stroke-width="1.5"/>
<path d="M262.3,932.3 h7 M265.8,928.8 v7" stroke="#111" stroke-width="1.3"/>
<text x="49.5" y="880" font-size="9.3" fill="#333" font-family="Liberation Sans,sans-serif">真实电池</text>
<path d="M171,897 C161,892 158,881 166,875" stroke="#1f8fd0" stroke-width="4.2" fill="none"/>
<path d="M161,876.5 L170,870 L172.5,880 z" fill="#1f8fd0"/>
<path d="M268,875 C279,879 282,890 274,896" stroke="#1f8fd0" stroke-width="4.2" fill="none"/>
<path d="M279.5,895.5 L270,901.5 L268.5,891.5 z" fill="#1f8fd0"/>
<text x="175" y="888.6" font-size="9.1" fill="#222" font-family="Liberation Sans,sans-serif">真是电池耗电电流</text>
<path d="M169,905.8 H196 M237,905.8 H268" stroke="#333" stroke-width="0.8"/>
<path d="M166.5,905.8 l4.5,-2.3 v4.6 z M271,905.8 l-4.5,-2.3 v4.6 z" fill="#111"/>
<text x="201" y="909.3" font-size="9.6" fill="#222" font-family="Liberation Sans,sans-serif">0 Volts</text>
<text x="197" y="937.5" font-size="10" fill="#333" font-family="Liberation Sans,sans-serif">电流表</text>
<circle cx="212.8" cy="948.2" r="10" fill="#fff" stroke="#111" stroke-width="1.3"/>
<text x="208.6" y="952" font-size="11" fill="#111" font-family="Liberation Sans,sans-serif">A</text>
<text x="146.6" y="971.6" font-size="8" font-weight="bold" fill="#111" font-family="Liberation Sans,sans-serif" letter-spacing="-0.52">Aux In Voltage Measurement</text>
<text x="186" y="982.5" font-size="10.6" font-weight="bold" fill="#111" font-family="Liberation Sans,sans-serif" letter-spacing="-0.9">N6781A SMU</text>
<rect x="326.6" y="857.8" width="40.2" height="64.7" rx="4" fill="#151515" stroke="#444" stroke-width="0.6"/>
<rect x="329" y="861" width="35" height="38" rx="2" fill="#222"/>
<rect x="331.4" y="875.7" width="26.5" height="13.3" fill="#f2f2f2"/>
<text x="334" y="886.2" font-size="9.5" fill="#111" font-family="Liberation Sans,sans-serif">DUT</text>
<rect x="325.8" y="866" width="2" height="7" fill="#c0a040"/>
<path d="M340,864 h15" stroke="#666" stroke-width="0.6"/>
<path d="M329,905 h35 M329,912 h35 M341,903 v17 M352,903 v17" stroke="#555" stroke-width="0.6"/>
<path d="M333,907 h4 M356,907 h4 M345,908 h3" stroke="#cfcf90" stroke-width="0.9"/>
<text x="298" y="941" font-size="9.6" fill="#222" font-family="Liberation Sans,sans-serif">Up to 4 per</text>
<text x="298" y="951.5" font-size="9.6" fill="#222" font-family="Liberation Sans,sans-serif">mainframe</text>
<path d="M298,960 L334,955.5 L342,959 L342,975 L306,979.7 L298,975 z" fill="#e4e4e8" stroke="#aaa" stroke-width="0.4"/>
<rect x="300" y="959" width="7" height="7" fill="#3a4a80"/>
<path d="M309,962 h28 M309,966 h28 M309,970 h28" stroke="#9a9aa8" stroke-width="1.5" stroke-dasharray="2,1.5"/>
<path d="M310,964 h5 M320,968 h6" stroke="#e04060" stroke-width="1"/>
<path d="M298,976 l-1,5 M306,980 l-1,3 M340,975 l1,4" stroke="#888" stroke-width="0.6"/>
</svg>

<svg class="a" style="left:0;top:0" width="681" height="1214" viewBox="0 0 681 1214">
<rect x="36.4" y="990.9" width="345.8" height="208.5000000000001" fill="#000"/>
<rect x="36.4" y="990.9" width="345.8" height="7.7" fill="#3e3e3e"/>
<rect x="36.4" y="990.9" width="345.8" height="0.9" fill="#303030"/>
<circle cx="42" cy="994.8" r="1.8" fill="none" stroke="#888" stroke-width="0.5"/>
<text x="53" y="996.6" font-size="3.4" fill="#cfcfcf" font-family="Liberation Sans,sans-serif">File</text>
<text x="65.5" y="996.6" font-size="3.4" fill="#cfcfcf" font-family="Liberation Sans,sans-serif">Edit</text>
<text x="80.5" y="996.6" font-size="3.4" fill="#cfcfcf" font-family="Liberation Sans,sans-serif">Tools</text>
<text x="97" y="996.6" font-size="3.4" fill="#cfcfcf" font-family="Liberation Sans,sans-serif">Data Logger</text>
<text x="124" y="996.6" font-size="3.4" fill="#cfcfcf" font-family="Liberation Sans,sans-serif">Help</text>
<circle cx="141.5" cy="994.8" r="2.4" fill="#4a90d0"/>
<rect x="147" y="991.8" width="36" height="6.4" fill="#333"/>
<path d="M149,997 l1.5,-3 l1.5,2 l2,-3" stroke="#c8b020" stroke-width="0.7" fill="none"/>
<text x="158" y="996.6" font-size="3.4" fill="#cfcfcf" font-family="Liberation Sans,sans-serif">Scope</text>
<rect x="184" y="991.8" width="37.5" height="6.4" fill="#3d6272"/>
<path d="M186,993 l3,1.8 l-3,1.8 z" fill="#d8c020"/>
<text x="195" y="996.6" font-size="3.4" fill="#dfe8ee" font-family="Liberation Sans,sans-serif">Data Logger</text>
<rect x="222" y="991.8" width="36" height="6.4" fill="#333"/>
<path d="M224,997.5 l2,-5 l1.5,5" stroke="#c8b020" stroke-width="0.6" fill="none"/>
<text x="233" y="996.6" font-size="3.4" fill="#cfcfcf" font-family="Liberation Sans,sans-serif">CCDF</text>
<rect x="258.5" y="991.8" width="36" height="6.4" fill="#333"/>
<path d="M260,997 l1,-4 l1,3 l1,-4 l1,4" stroke="#c8b020" stroke-width="0.6" fill="none"/>
<text x="270" y="996.6" font-size="3.4" fill="#cfcfcf" font-family="Liberation Sans,sans-serif">ARB</text>
<text x="362" y="996.5" font-size="3.2" fill="#aaa" font-family="Liberation Sans,sans-serif">–  ▫  ×</text>
<path d="M37.7,1000.5 h8.9 v42 l-8.9,6 z" fill="#333" stroke="#555" stroke-width="0.4"/>
<path d="M37.7,1051 h8.9 v33 l-8.9,6 z" fill="#333" stroke="#555" stroke-width="0.4"/>
<text transform="translate(40.2,1004) rotate(90)" font-size="3.6" fill="#bbb" font-family="Liberation Sans,sans-serif">Instrument Control</text>
<text transform="translate(40.2,1054) rotate(90)" font-size="3.6" fill="#bbb" font-family="Liberation Sans,sans-serif">Event Log</text>
<line x1="58.4" y1="1006.5" x2="58.4" y2="1097.9" stroke="#5c5c5c" stroke-width="0.8"/>
<line x1="90.5" y1="1006.5" x2="90.5" y2="1097.9" stroke="#5c5c5c" stroke-width="0.8"/>
<line x1="121.5" y1="1006.5" x2="121.5" y2="1097.9" stroke="#5c5c5c" stroke-width="0.8"/>
<line x1="152.4" y1="1006.5" x2="152.4" y2="1097.9" stroke="#5c5c5c" stroke-width="0.8"/>
<line x1="183.4" y1="1006.5" x2="183.4" y2="1097.9" stroke="#5c5c5c" stroke-width="0.8"/>
<line x1="214.4" y1="1006.5" x2="214.4" y2="1097.9" stroke="#5c5c5c" stroke-width="0.8"/>
<line x1="245.4" y1="1006.5" x2="245.4" y2="1097.9" stroke="#5c5c5c" stroke-width="0.8"/>
<line x1="276.4" y1="1006.5" x2="276.4" y2="1097.9" stroke="#5c5c5c" stroke-width="0.8"/>
<line x1="307.3" y1="1006.5" x2="307.3" y2="1097.9" stroke="#5c5c5c" stroke-width="0.8"/>
<line x1="338.3" y1="1006.5" x2="338.3" y2="1097.9" stroke="#5c5c5c" stroke-width="0.8"/>
<line x1="367.7" y1="1006.5" x2="367.7" y2="1097.9" stroke="#5c5c5c" stroke-width="0.8"/>
<line x1="58.4" y1="1006.5" x2="367.7" y2="1006.5" stroke="#5c5c5c" stroke-width="0.8"/>
<line x1="58.4" y1="1017.9" x2="367.7" y2="1017.9" stroke="#5c5c5c" stroke-width="0.8"/>
<line x1="58.4" y1="1029.3" x2="367.7" y2="1029.3" stroke="#5c5c5c" stroke-width="0.8"/>
<line x1="58.4" y1="1040.8" x2="367.7" y2="1040.8" stroke="#5c5c5c" stroke-width="0.8"/>
<line x1="58.4" y1="1052.2" x2="367.7" y2="1052.2" stroke="#5c5c5c" stroke-width="0.8"/>
<line x1="58.4" y1="1063.6" x2="367.7" y2="1063.6" stroke="#5c5c5c" stroke-width="0.8"/>
<line x1="58.4" y1="1075.1" x2="367.7" y2="1075.1" stroke="#5c5c5c" stroke-width="0.8"/>
<line x1="58.4" y1="1086.5" x2="367.7" y2="1086.5" stroke="#5c5c5c" stroke-width="0.8"/>
<line x1="58.4" y1="1097.9" x2="367.7" y2="1097.9" stroke="#5c5c5c" stroke-width="0.8"/>
<line x1="58.4" y1="1097.9" x2="367.7" y2="1097.9" stroke="#999" stroke-width="1"/>
<line x1="58.6" y1="1004" x2="58.6" y2="1097.9" stroke="#c08018" stroke-width="0.7"/>
<line x1="338.4" y1="1004" x2="338.4" y2="1097.9" stroke="#d89010" stroke-width="0.9" stroke-dasharray="1.2,1.2"/>
<path d="M57.2,998.8 h2.8 v4.2 h1.6 l-3,3.5 l-3,-3.5 h1.6 z" fill="#f0a010"/>
<path d="M337.0,998.8 h2.8 v4.2 h1.6 l-3,3.5 l-3,-3.5 h1.6 z" fill="#f0a010"/>
<text x="51" y="1013.8" font-size="3.8" fill="#e0d020" font-family="Liberation Sans,sans-serif">V1</text>
<path d="M51,1016.3 l3,-1 l2,1 l-2,1.5 z" fill="#e0d020"/>
<text x="51.5" y="1034" font-size="3.8" fill="#e0d020" font-family="Liberation Sans,sans-serif">I1</text>
<path d="M51,1036.5 l3,-1 l2,1 l-2,1.5 z" fill="#e0d020"/>
<text x="47.5" y="1079.5" font-size="3.8" fill="#e0d020" font-family="Liberation Sans,sans-serif">F1 A I1</text>
<path d="M51,1082.0 l3,-1 l2,1 l-2,1.5 z" fill="#e0d020"/>
<text x="47.5" y="1097" font-size="3.8" fill="#e0d020" font-family="Liberation Sans,sans-serif">F1 A P1</text>
<path d="M51,1099.5 l3,-1 l2,1 l-2,1.5 z" fill="#e0d020"/>
<path d="M58.8,1044.7 L140,1050.3 L188.5,1051 L189,1052.5 L240,1054.7 L338.3,1060 L339,1058.5 L367.7,1058.2" stroke="#d0b838" stroke-width="1.5" fill="none"/>
<path d="M60,1046.4 L140,1051.6 L188.5,1052.3 L240,1056 L336,1061" stroke="#807020" stroke-width="0.7" fill="none"/>
<path d="M58.8,1077 H62 V1067.5 H73 V1066 H82.6 V1070.4 H90 V1073.4 H132.5 V1075.6 H188.5 V1067.2 H317.8 V1068.5 H338.3 V1080" stroke="#d8c828" stroke-width="0.8" fill="none"/>
<path d="M63.5,1067.5 V1076 M66.5,1067.5 V1076 M69.5,1067.5 V1076 M72.5,1067.5 V1076 M75.5,1067.5 V1076 M78.5,1067.5 V1076 M81.5,1067.5 V1076 M84.5,1067.5 V1076 M87.5,1067.5 V1076" stroke="#d8c828" stroke-width="0.7" fill="none" stroke-dasharray="1.6,0.6"/>
<path d="M91.6,1073.4 V1076.5 M94.8,1073.4 V1076.5 M98.0,1073.4 V1076.5 M101.2,1073.4 V1076.5 M104.4,1073.4 V1076.5 M107.6,1073.4 V1076.5 M110.8,1073.4 V1076.5 M114.0,1073.4 V1076.5 M117.2,1073.4 V1076.5 M120.4,1073.4 V1076.5 M123.6,1073.4 V1076.5 M126.8,1073.4 V1076.5 M130.0,1073.4 V1076.5" stroke="#d8c828" stroke-width="0.45" fill="none" stroke-dasharray="1.6,0.6"/>
<path d="M190.0,1067.2 V1076 M193.0,1067.2 V1076 M196.0,1067.2 V1076 M199.0,1067.2 V1076 M202.0,1067.2 V1076 M205.0,1067.2 V1076 M208.0,1067.2 V1076 M211.0,1067.2 V1076 M214.0,1067.2 V1076 M217.0,1067.2 V1076 M220.0,1067.2 V1076 M223.0,1067.2 V1076 M226.0,1067.2 V1076 M229.0,1067.2 V1076 M232.0,1067.2 V1076 M235.0,1067.2 V1076 M238.0,1067.2 V1076 M241.0,1067.2 V1076 M244.0,1067.2 V1076 M247.0,1067.2 V1076 M250.0,1067.2 V1076 M253.0,1067.2 V1076 M256.0,1067.2 V1076 M259.0,1067.2 V1076 M262.0,1067.2 V1076 M265.0,1067.2 V1076 M268.0,1067.2 V1076 M271.0,1067.2 V1076 M274.0,1067.2 V1076 M277.0,1067.2 V1076 M280.0,1067.2 V1076 M283.0,1067.2 V1076 M286.0,1067.2 V1076 M289.0,1067.2 V1076 M292.0,1067.2 V1076 M295.0,1067.2 V1076 M298.0,1067.2 V1076 M301.0,1067.2 V1076 M304.0,1067.2 V1076 M307.0,1067.2 V1076 M310.0,1067.2 V1076 M313.0,1067.2 V1076 M316.0,1067.2 V1076 M319.0,1067.2 V1076 M322.0,1067.2 V1076 M325.0,1067.2 V1076 M328.0,1067.2 V1076 M331.0,1067.2 V1076 M334.0,1067.2 V1076 M337.0,1067.2 V1076" stroke="#d8c828" stroke-width="0.7" fill="none" stroke-dasharray="1.6,0.6"/>
<path d="M58.8,1076.5 H338.3" stroke="#d8c828" stroke-width="0.7" fill="none"/>
<path d="M58.8,1078.5 H338.3" stroke="#e8e040" stroke-width="0.7" fill="none"/>
<path d="M58.8,1080.4 H367.7" stroke="#f0e848" stroke-width="1" fill="none"/>
<path d="M338.3,1079.6 H367.7" stroke="#f0e848" stroke-width="1.6" fill="none" opacity="0.8"/>
<path d="M58.8,1097.5 H62 V1088.8 H73 V1088 H82.6 V1091.7 H90 V1093.9 H132.5 V1095.4 H188.5 V1089.2 H338.3 V1098" stroke="#c89028" stroke-width="0.8" fill="none"/>
<path d="M63.7,1088.8 V1097.5 M67.1,1088.8 V1097.5 M70.5,1088.8 V1097.5 M73.9,1088.8 V1097.5 M77.3,1088.8 V1097.5 M80.7,1088.8 V1097.5 M84.1,1088.8 V1097.5 M87.5,1088.8 V1097.5" stroke="#c89028" stroke-width="0.55" fill="none" stroke-dasharray="1.6,0.6"/>
<path d="M190.2,1089.2 V1097.5 M193.5,1089.2 V1097.5 M196.8,1089.2 V1097.5 M200.1,1089.2 V1097.5 M203.4,1089.2 V1097.5 M206.7,1089.2 V1097.5 M210.0,1089.2 V1097.5 M213.3,1089.2 V1097.5 M216.6,1089.2 V1097.5 M219.9,1089.2 V1097.5 M223.2,1089.2 V1097.5 M226.5,1089.2 V1097.5 M229.8,1089.2 V1097.5 M233.1,1089.2 V1097.5 M236.4,1089.2 V1097.5 M239.7,1089.2 V1097.5 M243.0,1089.2 V1097.5 M246.3,1089.2 V1097.5 M249.6,1089.2 V1097.5 M252.9,1089.2 V1097.5 M256.2,1089.2 V1097.5 M259.5,1089.2 V1097.5 M262.8,1089.2 V1097.5 M266.1,1089.2 V1097.5 M269.4,1089.2 V1097.5 M272.7,1089.2 V1097.5 M276.0,1089.2 V1097.5 M279.3,1089.2 V1097.5 M282.6,1089.2 V1097.5 M285.9,1089.2 V1097.5 M289.2,1089.2 V1097.5 M292.5,1089.2 V1097.5 M295.8,1089.2 V1097.5 M299.1,1089.2 V1097.5 M302.4,1089.2 V1097.5 M305.7,1089.2 V1097.5 M309.0,1089.2 V1097.5 M312.3,1089.2 V1097.5 M315.6,1089.2 V1097.5 M318.9,1089.2 V1097.5 M322.2,1089.2 V1097.5 M325.5,1089.2 V1097.5 M328.8,1089.2 V1097.5 M332.1,1089.2 V1097.5 M335.4,1089.2 V1097.5" stroke="#c89028" stroke-width="0.5" fill="none" stroke-dasharray="1.6,0.6"/>
<path d="M58.8,1096.8 H338.3" stroke="#c89028" stroke-width="0.6" fill="none"/>
<text x="137" y="1053.3" font-size="13.5" font-weight="bold" fill="#f4c400" font-family="Liberation Sans,sans-serif" stroke="#f4c400" stroke-width="0.4">电压</text>
<text x="137" y="1075.3" font-size="13.5" font-weight="bold" fill="#eef088" font-family="Liberation Sans,sans-serif" stroke="#eef088" stroke-width="0.4">电流</text>
<text x="138.5" y="1097.3" font-size="13.5" font-weight="bold" fill="#f4a010" font-family="Liberation Sans,sans-serif" stroke="#f4a010" stroke-width="0.4">功率</text>
<path d="M55.8,1098 l2.8,-4.5 l2.8,4.5 z" fill="#e02020"/>
<circle cx="58.6" cy="1107" r="1.6" fill="none" stroke="#d02020" stroke-width="0.6"/>
<text x="53.4" y="1103.5" font-size="3.2" fill="#ccc" font-family="Liberation Sans,sans-serif">-36</text>
<text x="84.33" y="1103.5" font-size="3.2" fill="#ccc" font-family="Liberation Sans,sans-serif">23:36</text>
<text x="115.25999999999999" y="1103.5" font-size="3.2" fill="#ccc" font-family="Liberation Sans,sans-serif">47:35</text>
<text x="146.19" y="1103.5" font-size="3.2" fill="#ccc" font-family="Liberation Sans,sans-serif">01:11:41</text>
<text x="177.12" y="1103.5" font-size="3.2" fill="#ccc" font-family="Liberation Sans,sans-serif">01:35:46</text>
<text x="208.05" y="1103.5" font-size="3.2" fill="#ccc" font-family="Liberation Sans,sans-serif">01:59:51</text>
<text x="238.98000000000002" y="1103.5" font-size="3.2" fill="#ccc" font-family="Liberation Sans,sans-serif">02:23:56</text>
<text x="269.90999999999997" y="1103.5" font-size="3.2" fill="#ccc" font-family="Liberation Sans,sans-serif">02:48:02</text>
<text x="300.84" y="1103.5" font-size="3.2" fill="#ccc" font-family="Liberation Sans,sans-serif">03:12:07</text>
<text x="331.77" y="1103.5" font-size="3.2" fill="#ccc" font-family="Liberation Sans,sans-serif">03:36:12</text>
<text x="362.7" y="1103.5" font-size="3.2" fill="#ccc" font-family="Liberation Sans,sans-serif">04:00:17</text>
<rect x="213.1" y="1105.8" width="1.8" height="1.8" fill="#d02020"/>
<rect x="367.70000000000005" y="1105.8" width="1.8" height="1.8" fill="#d02020"/>
<rect x="134" y="1111.7" width="10" height="3.3" fill="#3a3a3a"/><rect x="145" y="1111.7" width="12" height="3.3" fill="#3a3a3a"/>
<line x1="160" y1="1113.3" x2="268" y2="1113.3" stroke="#c8a020" stroke-width="1.4"/>
<rect x="270" y="1111.7" width="9" height="3.3" fill="#3a3a3a"/><rect x="280" y="1111.7" width="9" height="3.3" fill="#3a3a3a"/>
<rect x="48" y="1115.6" width="334.2" height="55" fill="#262626"/>
<rect x="48.5" y="1119.4" width="38.4" height="5.2" fill="#6a6a6a"/>
<text x="61" y="1123.3" font-size="3.2" fill="#e8e8e8" font-family="Liberation Sans,sans-serif">Stopped</text>
<text x="94.8" y="1122.2" font-size="2.9" fill="#e0e0e0" font-family="Liberation Sans,sans-serif">Markers &amp; Measurements</text>
<circle cx="139" cy="1120.6" r="2.4" fill="none" stroke="#aaa" stroke-width="0.5"/>
<circle cx="261" cy="1119.5" r="2.2" fill="#333" stroke="#bbb" stroke-width="0.5"/>
<text x="267.8" y="1121.2" font-size="3.1" fill="#e0e0e0" font-family="Liberation Sans,sans-serif">Auto Scroll</text>
<rect x="294.8" y="1115.7" width="20.6" height="8.3" fill="#161616" stroke="#555" stroke-width="0.3"/>
<rect x="318" y="1115.7" width="21.7" height="8.3" fill="#161616" stroke="#555" stroke-width="0.3"/>
<rect x="342" y="1115.7" width="9.5" height="8.3" fill="#161616" stroke="#555" stroke-width="0.3"/>
<rect x="352.5" y="1115.7" width="9.5" height="8.3" fill="#161616" stroke="#555" stroke-width="0.3"/>
<rect x="363" y="1115.7" width="9.5" height="8.3" fill="#161616" stroke="#555" stroke-width="0.3"/>
<text x="296.5" y="1121" font-size="3" fill="#e0e0e0" font-family="Liberation Sans,sans-serif">Ranges...</text><text x="319.5" y="1121" font-size="3" fill="#e0e0e0" font-family="Liberation Sans,sans-serif">AUTO SCALE</text>
<circle cx="357" cy="1119.5" r="1.8" fill="none" stroke="#ddd" stroke-width="0.6"/><circle cx="367.5" cy="1119.5" r="1.8" fill="none" stroke="#ddd" stroke-width="0.6"/>
<rect x="49.4" y="1128.4" width="10.4" height="6.8" rx="1" fill="#2e2e2e" stroke="#555" stroke-width="0.3"/>
<rect x="52.5" y="1129.9" width="4" height="3.8" fill="none" stroke="#e0a030" stroke-width="0.6"/>
<rect x="49.4" y="1137" width="10.4" height="6.8" rx="1" fill="#2e2e2e" stroke="#555" stroke-width="0.3"/>
<rect x="52.5" y="1138.5" width="4" height="3.8" fill="none" stroke="#e0a030" stroke-width="0.6"/>
<rect x="49.4" y="1145.7" width="10.4" height="6.8" rx="1" fill="#2e2e2e" stroke="#555" stroke-width="0.3"/>
<rect x="52.5" y="1147.2" width="4" height="3.8" fill="none" stroke="#e0a030" stroke-width="0.6"/>
<rect x="61.25" y="1128.4" width="315" height="32.6" fill="#050505" stroke="#3a3a3a" stroke-width="0.5"/>
<rect x="102.2" y="1128.6" width="38.8" height="3.8" fill="#7a7a7a"/>
<rect x="102.2" y="1132.4" width="38.8" height="3.8" fill="#5a5a5a"/>
<rect x="102.2" y="1136.2" width="38.8" height="3.8" fill="#7a7a7a"/>
<rect x="102.2" y="1140" width="38.8" height="21" fill="#646464"/>
<rect x="336.5" y="1128.6" width="39.5" height="3.8" fill="#7a7a7a"/>
<rect x="336.5" y="1132.4" width="39.5" height="3.8" fill="#5a5a5a"/>
<rect x="336.5" y="1136.2" width="39.5" height="3.8" fill="#7a7a7a"/>
<rect x="336.5" y="1140" width="39.5" height="21" fill="#646464"/>
<rect x="61.25" y="1132.4" width="41" height="7.6" fill="#1a1a1a"/>
<rect x="141" y="1132.6" width="195.5" height="3.7" fill="#505050"/>
<text x="78" y="1137" font-size="3" fill="#e8e8e8" font-family="Liberation Sans,sans-serif">Time</text>
<text x="114" y="1131.6" font-size="2.7" fill="#eee" font-family="Liberation Sans,sans-serif">Marker 1</text><text x="349" y="1131.6" font-size="2.7" fill="#eee" font-family="Liberation Sans,sans-serif">Marker 2</text>
<text x="108" y="1135.4" font-size="2.7" fill="#ddd" font-family="Liberation Sans,sans-serif">-00:00:34.658135</text><text x="343" y="1135.4" font-size="2.7" fill="#ddd" font-family="Liberation Sans,sans-serif">03:37:34.237498</text>
<text x="213" y="1131" font-size="2.7" fill="#ddd" font-family="Liberation Sans,sans-serif">Measurements Between Markers</text><text x="216" y="1135.4" font-size="2.6" fill="#aaa" font-family="Liberation Sans,sans-serif">Marker Delta = 03:38:08.895633</text>
<text x="118" y="1139.4" font-size="2.7" fill="#e8e8e8" font-family="Liberation Sans,sans-serif">Avg</text>
<text x="158" y="1139.4" font-size="2.7" fill="#e8e8e8" font-family="Liberation Sans,sans-serif">Min</text>
<text x="196" y="1139.4" font-size="2.7" fill="#e8e8e8" font-family="Liberation Sans,sans-serif">Avg</text>
<text x="236" y="1139.4" font-size="2.7" fill="#e8e8e8" font-family="Liberation Sans,sans-serif">Max</text>
<text x="270" y="1139.4" font-size="2.7" fill="#e8e8e8" font-family="Liberation Sans,sans-serif">Peak to Peak</text>
<text x="303" y="1139.4" font-size="2.7" fill="#e8e8e8" font-family="Liberation Sans,sans-serif">Charge / Energy</text>
<text x="352" y="1139.4" font-size="2.7" fill="#e8e8e8" font-family="Liberation Sans,sans-serif">Avg</text>
<line x1="141" y1="1136.2" x2="141" y2="1161" stroke="#333" stroke-width="0.4"/>
<line x1="179.8" y1="1136.2" x2="179.8" y2="1161" stroke="#333" stroke-width="0.4"/>
<line x1="218" y1="1136.2" x2="218" y2="1161" stroke="#333" stroke-width="0.4"/>
<line x1="259.2" y1="1136.2" x2="259.2" y2="1161" stroke="#333" stroke-width="0.4"/>
<line x1="296.7" y1="1136.2" x2="296.7" y2="1161" stroke="#333" stroke-width="0.4"/>
<line x1="336.5" y1="1136.2" x2="336.5" y2="1161" stroke="#333" stroke-width="0.4"/>
<text x="78" y="1143.6" font-size="2.9" fill="#d8b818" font-family="Liberation Sans,sans-serif">A V1</text>
<text x="150" y="1143.6" font-size="2.9" fill="#d8b818" font-family="Liberation Sans,sans-serif">---</text>
<text x="190" y="1143.6" font-size="2.9" fill="#d8b818" font-family="Liberation Sans,sans-serif">---</text>
<text x="228" y="1143.6" font-size="2.9" fill="#d8b818" font-family="Liberation Sans,sans-serif">---</text>
<text x="268" y="1143.6" font-size="2.9" fill="#d8b818" font-family="Liberation Sans,sans-serif">---</text>
<text x="305" y="1143.6" font-size="2.9" fill="#d8b818" font-family="Liberation Sans,sans-serif">---</text>
<text x="345" y="1143.6" font-size="2.9" fill="#d8b818" font-family="Liberation Sans,sans-serif">---</text>
<text x="78" y="1147.6999999999998" font-size="2.9" fill="#f0e020" font-family="Liberation Sans,sans-serif">A I1</text>
<text x="150" y="1147.6999999999998" font-size="2.9" fill="#f0e020" font-family="Liberation Sans,sans-serif">---</text>
<text x="190" y="1147.6999999999998" font-size="2.9" fill="#f0e020" font-family="Liberation Sans,sans-serif">---</text>
<text x="228" y="1147.6999999999998" font-size="2.9" fill="#f0e020" font-family="Liberation Sans,sans-serif">---</text>
<text x="268" y="1147.6999999999998" font-size="2.9" fill="#f0e020" font-family="Liberation Sans,sans-serif">---</text>
<text x="305" y="1147.6999999999998" font-size="2.9" fill="#f0e020" font-family="Liberation Sans,sans-serif">---</text>
<text x="345" y="1147.6999999999998" font-size="2.9" fill="#f0e020" font-family="Liberation Sans,sans-serif">---</text>
<text x="78" y="1151.8" font-size="2.9" fill="#c8a020" font-family="Liberation Sans,sans-serif">F1 A V1</text>
<text x="150" y="1151.8" font-size="2.9" fill="#c8a020" font-family="Liberation Sans,sans-serif">3.44067020 V</text>
<text x="190" y="1151.8" font-size="2.9" fill="#c8a020" font-family="Liberation Sans,sans-serif">3.6377c005 V</text>
<text x="228" y="1151.8" font-size="2.9" fill="#c8a020" font-family="Liberation Sans,sans-serif">4.1558 V</text>
<text x="268" y="1151.8" font-size="2.9" fill="#c8a020" font-family="Liberation Sans,sans-serif">718.4 mV</text>
<text x="305" y="1151.8" font-size="2.9" fill="#c8a020" font-family="Liberation Sans,sans-serif">---</text>
<text x="345" y="1151.8" font-size="2.9" fill="#c8a020" font-family="Liberation Sans,sans-serif">3.5440 V</text>
<text x="78" y="1155.8999999999999" font-size="2.9" fill="#f0f030" font-family="Liberation Sans,sans-serif">F1 A I1</text>
<text x="150" y="1155.8999999999999" font-size="2.9" fill="#f0f030" font-family="Liberation Sans,sans-serif">24.16037 mA</text>
<text x="190" y="1155.8999999999999" font-size="2.9" fill="#f0f030" font-family="Liberation Sans,sans-serif">222.3058 mA</text>
<text x="228" y="1155.8999999999999" font-size="2.9" fill="#f0f030" font-family="Liberation Sans,sans-serif">1.2827 A</text>
<text x="268" y="1155.8999999999999" font-size="2.9" fill="#f0f030" font-family="Liberation Sans,sans-serif">1.25913 A</text>
<text x="305" y="1155.8999999999999" font-size="2.9" fill="#f0f030" font-family="Liberation Sans,sans-serif">843.7 mAh</text>
<text x="345" y="1155.8999999999999" font-size="2.9" fill="#f0f030" font-family="Liberation Sans,sans-serif">200.3 mA</text>
<text x="78" y="1160.0" font-size="2.9" fill="#c89028" font-family="Liberation Sans,sans-serif">F1 A P1</text>
<text x="150" y="1160.0" font-size="2.9" fill="#c89028" font-family="Liberation Sans,sans-serif">90.25 mW</text>
<text x="190" y="1160.0" font-size="2.9" fill="#c89028" font-family="Liberation Sans,sans-serif">880.8 mW</text>
<text x="228" y="1160.0" font-size="2.9" fill="#c89028" font-family="Liberation Sans,sans-serif">5.13827 W</text>
<text x="268" y="1160.0" font-size="2.9" fill="#c89028" font-family="Liberation Sans,sans-serif">5.0482 W</text>
<text x="305" y="1160.0" font-size="2.9" fill="#c89028" font-family="Liberation Sans,sans-serif">3.192 Wh</text>
<text x="345" y="1160.0" font-size="2.9" fill="#c89028" font-family="Liberation Sans,sans-serif">683.7 mW</text>
<rect x="51" y="1163" width="25.4" height="5.8" rx="0.8" fill="#141414" stroke="#4a4a4a" stroke-width="0.4"/>
<rect x="96" y="1163" width="24" height="5.8" rx="0.8" fill="#141414" stroke="#4a4a4a" stroke-width="0.4"/>
<rect x="140" y="1163" width="17" height="5.8" rx="0.8" fill="#141414" stroke="#4a4a4a" stroke-width="0.4"/>
<rect x="197.4" y="1163" width="38.2" height="5.8" rx="0.8" fill="#141414" stroke="#4a4a4a" stroke-width="0.4"/>
<rect x="261" y="1163" width="41.3" height="5.8" rx="0.8" fill="#141414" stroke="#4a4a4a" stroke-width="0.4"/>
<text x="52.5" y="1167" font-size="3" fill="#e0e0e0" font-family="Liberation Sans,sans-serif">24h05,244 / ▾</text>
<text x="80" y="1167" font-size="2.9" fill="#bbb" font-family="Liberation Sans,sans-serif">Duration:</text><text x="98" y="1167" font-size="3" fill="#e0e0e0" font-family="Liberation Sans,sans-serif">-000:00:10</text>
<text x="125" y="1167" font-size="2.9" fill="#bbb" font-family="Liberation Sans,sans-serif">Period:</text><text x="142" y="1167" font-size="3" fill="#e0e0e0" font-family="Liberation Sans,sans-serif">2.00794</text><text x="162" y="1167" font-size="2.9" fill="#bbb" font-family="Liberation Sans,sans-serif">ms</text>
<circle cx="170" cy="1166" r="1.7" fill="none" stroke="#aaa" stroke-width="0.4"/>
<text x="173" y="1167.3" font-size="3.3" fill="#e0e0e0" font-family="Liberation Sans,sans-serif">Min/Max</text><text x="191" y="1167" font-size="2.9" fill="#bbb" font-family="Liberation Sans,sans-serif">File:</text>
<text x="198.5" y="1167" font-size="3" fill="#e0e0e0" font-family="Liberation Sans,sans-serif">datalogdata007.dlg</text>
<rect x="237.9" y="1163.5" width="4.5" height="5" fill="#2a2a2a" stroke="#555" stroke-width="0.3"/>
<text x="246.9" y="1167" font-size="2.9" fill="#bbb" font-family="Liberation Sans,sans-serif">Trigger</text><text x="263" y="1167" font-size="3" fill="#e0e0e0" font-family="Liberation Sans,sans-serif">Arb Run Button  ▾</text>
<rect x="36.4" y="1170.5" width="345.8" height="28.90000000000009" fill="#383838"/>
<rect x="36.4" y="1170.5" width="345.8" height="0.8" fill="#4a4a4a"/>
<rect x="63" y="1172.4" width="310" height="23.6" fill="#2a2a2a"/>
<path d="M218,1172.5 l2.5,-3.5 h22 l2.5,3.5 z M246,1172.5 l2.5,-3.5 h22 l2.5,3.5 z" fill="#444"/>
<text x="68" y="1175.2" font-size="2.3" fill="#ddd" font-family="Liberation Sans,sans-serif">INSTRUMENTS</text><text x="100" y="1175.2" font-size="2.3" fill="#ddd" font-family="Liberation Sans,sans-serif">OUTPUTS</text><text x="276" y="1175.2" font-size="2.3" fill="#ddd" font-family="Liberation Sans,sans-serif">FORMULA</text><text x="320" y="1175.2" font-size="2.3" fill="#ddd" font-family="Liberation Sans,sans-serif">RUN</text>
<rect x="64.6" y="1177.6" width="25.4" height="8.4" rx="1.5" fill="#1e1e1e" stroke="#c81818" stroke-width="0.9"/>
<rect x="66.5" y="1178.5" width="7.1" height="6.7" rx="1.2" fill="#f08020"/>
<rect x="66.5" y="1188" width="7.1" height="6.6" rx="1.2" fill="#f08020"/>
<text x="68.3" y="1183.3" font-size="3.6" fill="#fff" font-family="Liberation Sans,sans-serif">A</text><text x="68.3" y="1192.6" font-size="3.6" fill="#fff" font-family="Liberation Sans,sans-serif">B</text>
<text x="75" y="1183" font-size="2.5" fill="#ddd" font-family="Liberation Sans,sans-serif">Powr Mo</text><text x="75" y="1192.3" font-size="2.5" fill="#ddd" font-family="Liberation Sans,sans-serif">Powr Mo</text>
<rect x="91.5" y="1177" width="2" height="18" fill="#555"/>
<rect x="100" y="1179" width="5.4" height="16" rx="0.8" fill="#e8c010"/>
<rect x="106" y="1179.0" width="5" height="4.5" fill="#e8d020"/><rect x="112" y="1179.0" width="16" height="4.5" fill="#1c1c1c" stroke="#888" stroke-width="0.3"/><rect x="129" y="1179.0" width="4" height="4.5" fill="#2a2a2a" stroke="#888" stroke-width="0.3"/>
<text x="113" y="1182.3" font-size="2.6" fill="#eee" font-family="Liberation Sans,sans-serif">880 mV</text>
<rect x="106" y="1184.5" width="5" height="4.5" fill="#e8d020"/><rect x="112" y="1184.5" width="16" height="4.5" fill="#1c1c1c" stroke="#888" stroke-width="0.3"/><rect x="129" y="1184.5" width="4" height="4.5" fill="#2a2a2a" stroke="#888" stroke-width="0.3"/>
<text x="113" y="1187.8" font-size="2.6" fill="#eee" font-family="Liberation Sans,sans-serif">663 mA</text>
<rect x="106" y="1190.0" width="5" height="4.5" fill="#e8d020"/><rect x="112" y="1190.0" width="16" height="4.5" fill="#1c1c1c" stroke="#888" stroke-width="0.3"/><rect x="129" y="1190.0" width="4" height="4.5" fill="#2a2a2a" stroke="#888" stroke-width="0.3"/>
<text x="113" y="1193.3" font-size="2.6" fill="#eee" font-family="Liberation Sans,sans-serif">4.56 W</text>
<rect x="144.5" y="1178" width="5.8" height="16" rx="0.8" fill="#30b030"/>
<text x="159.6" y="1187.5" font-size="2.8" fill="#ddd" font-family="Liberation Sans,sans-serif">No Data</text>
<rect x="189.4" y="1178" width="5.3" height="16" rx="0.8" fill="#3060d0"/>
<text x="204" y="1187.5" font-size="2.8" fill="#ddd" font-family="Liberation Sans,sans-serif">No Data</text>
<rect x="234.3" y="1179.3" width="5.7" height="14.5" rx="0.8" fill="#d030a0"/>
<text x="249.7" y="1187.5" font-size="2.8" fill="#ddd" font-family="Liberation Sans,sans-serif">No Data</text>
<rect x="276.7" y="1179.0" width="5" height="4.3" fill="#ddd"/><rect x="283" y="1179.0" width="20" height="4.3" fill="#1c1c1c" stroke="#888" stroke-width="0.3"/><rect x="304" y="1179.0" width="4" height="4.3" fill="#2a2a2a" stroke="#888" stroke-width="0.3"/>
<rect x="276.7" y="1184.3" width="5" height="4.3" fill="#ddd"/><rect x="283" y="1184.3" width="20" height="4.3" fill="#1c1c1c" stroke="#888" stroke-width="0.3"/><rect x="304" y="1184.3" width="4" height="4.3" fill="#2a2a2a" stroke="#888" stroke-width="0.3"/>
<rect x="276.7" y="1189.6" width="5" height="4.3" fill="#ddd"/><rect x="283" y="1189.6" width="20" height="4.3" fill="#1c1c1c" stroke="#888" stroke-width="0.3"/><rect x="304" y="1189.6" width="4" height="4.3" fill="#2a2a2a" stroke="#888" stroke-width="0.3"/>
<text x="320" y="1180" font-size="2.5" fill="#ddd" font-family="Liberation Sans,sans-serif">Data Log</text><text x="342" y="1180" font-size="2.5" fill="#ddd" font-family="Liberation Sans,sans-serif">Arb</text>
<circle cx="325" cy="1189" r="5.5" fill="#e8e8e8"/><path d="M323.5,1186 l4,3 l-4,3 z" fill="#333"/>
<circle cx="345" cy="1189" r="5.5" fill="#e8e8e8"/><path d="M343.5,1186 l4,3 l-4,3 z" fill="#333"/>
</svg>
<div class="a" style="left:407px;top:1003px;width:7.5px;height:6.5px;border:1.2px solid #111;border-right-width:2.4px;border-bottom-width:2.4px;"></div>
<div class="a" style="left:407px;top:1113.3px;width:7.5px;height:6.5px;border:1.2px solid #111;border-right-width:2.4px;border-bottom-width:2.4px;"></div>
<div class="a r3h" style="left:426px;top:998.0px;">我们可以得到:</div>
<div class="a r3h" style="left:426px;top:1109.0px;">结论：</div>
<svg class="a" style="left:440px;top:1020.5px" width="8.5" height="8" viewBox="0 0 8.5 8"><path d="M0,0 L8.5,4 L0,8 L2.6,4 Z" fill="#111"/><path d="M0,0 L8.5,4 L2.6,4 Z" fill="#555"/></svg>
<svg class="a" style="left:440px;top:1036.3px" width="8.5" height="8" viewBox="0 0 8.5 8"><path d="M0,0 L8.5,4 L0,8 L2.6,4 Z" fill="#111"/><path d="M0,0 L8.5,4 L2.6,4 Z" fill="#555"/></svg>
<svg class="a" style="left:440px;top:1052px" width="8.5" height="8" viewBox="0 0 8.5 8"><path d="M0,0 L8.5,4 L0,8 L2.6,4 Z" fill="#111"/><path d="M0,0 L8.5,4 L2.6,4 Z" fill="#555"/></svg>
<svg class="a" style="left:440px;top:1068px" width="8.5" height="8" viewBox="0 0 8.5 8"><path d="M0,0 L8.5,4 L0,8 L2.6,4 Z" fill="#111"/><path d="M0,0 L8.5,4 L2.6,4 Z" fill="#555"/></svg>
<svg class="a" style="left:440px;top:1084px" width="8.5" height="8" viewBox="0 0 8.5 8"><path d="M0,0 L8.5,4 L0,8 L2.6,4 Z" fill="#111"/><path d="M0,0 L8.5,4 L2.6,4 Z" fill="#555"/></svg>
<svg class="a" style="left:440px;top:1099.5px" width="8.5" height="8" viewBox="0 0 8.5 8"><path d="M0,0 L8.5,4 L0,8 L2.6,4 Z" fill="#111"/><path d="M0,0 L8.5,4 L2.6,4 Z" fill="#555"/></svg>
<svg class="a" style="left:440px;top:1132px" width="8.5" height="8" viewBox="0 0 8.5 8"><path d="M0,0 L8.5,4 L0,8 L2.6,4 Z" fill="#111"/><path d="M0,0 L8.5,4 L2.6,4 Z" fill="#555"/></svg>
<svg class="a" style="left:440px;top:1169.6px" width="8.5" height="8" viewBox="0 0 8.5 8"><path d="M0,0 L8.5,4 L0,8 L2.6,4 Z" fill="#111"/><path d="M0,0 L8.5,4 L2.6,4 Z" fill="#555"/></svg>
<div class="a r3c" style="left:460px;top:1015.0px;">平均电流</div><div class="a r3" style="left:516px;top:1015.0px;">= 233 mA</div>
<div class="a r3c" style="left:460px;top:1030.8px;">平均电压</div><div class="a r3" style="left:516px;top:1030.8px;">= 3.82 V</div>
<div class="a r3c" style="left:460px;top:1046.6px;">放电容量</div><div class="a r3" style="left:516px;top:1046.6px;">= 843 mA-h</div>
<div class="a r3c" style="left:460px;top:1062.4px;">放电能量</div><div class="a r3" style="left:516px;top:1062.4px;">= 3.19 W-h</div>
<div class="a r3c" style="left:460px;top:1078.2px;">时间</div><div class="a r3" style="left:516px;top:1078.2px;">= 3 hr 38 min</div>
<div class="a r3c" style="left:460px;top:1094.0px;">关机电压</div><div class="a r3" style="left:516px;top:1094.0px;">= 3.44 V</div>
<div class="a r3" style="left:460px;top:1126.5px;">放电量 (843 mA-h) 小于电池指标</div>
<div class="a r3" style="left:460px;top:1141.3px;">(1000 mA-h)</div>
<div class="a r3" style="left:460px;top:1164.0px;">关机电压高于预期 (期望3V)</div>
<!-- watermark -->
<svg class="a" style="left:0;top:0" width="681" height="1214" viewBox="0 0 681 1214">
<rect x="482" y="1184" width="196" height="28" fill="#fff" opacity="0.35"/>
<circle cx="551.2" cy="1188.5" r="17.5" fill="#fff" fill-opacity="0.55" stroke="#c4c4c4" stroke-width="0.9"/>
<path d="M540,1186 L560,1172 M545,1200 L563,1187" stroke="#999" stroke-width="0.9" fill="none"/>
<circle cx="541" cy="1187" r="2.3" fill="#fff" stroke="#999" stroke-width="0.8"/>
<circle cx="561" cy="1186" r="2.3" fill="#fff" stroke="#999" stroke-width="0.8"/>
<text x="497" y="1204.5" font-size="19.2" fill="#a8d8a0" fill-opacity="0.75" font-family="Liberation Sans,sans-serif">www.cntronics.com</text>
<text x="578" y="1200.5" font-size="6.5" fill="#aaa" fill-opacity="0.8" font-family="Liberation Sans,sans-serif" letter-spacing="0.6">www.elecfans.com</text>
<text transform="translate(570.5,1186.5) skewX(-12)" font-size="18.5" font-weight="bold" fill="#fff" stroke="#c4c4c4" stroke-width="1.1" paint-order="stroke" font-family="Liberation Sans,sans-serif">电子发烧友</text>
</svg>


</body></html>
